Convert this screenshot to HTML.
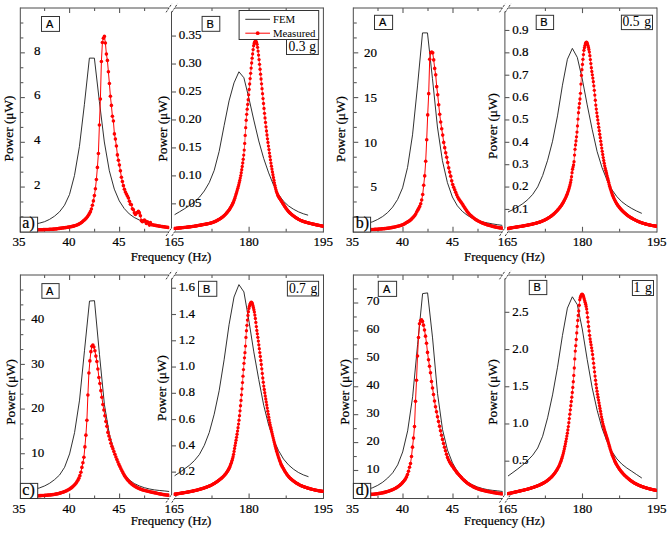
<!DOCTYPE html>
<html><head><meta charset="utf-8"><style>
html,body{margin:0;padding:0;background:#fff;width:669px;height:533px;overflow:hidden}
svg{display:block}
text{fill:#000;stroke:#000;stroke-width:0.22px}
</style></head><body>
<svg width="669" height="533" viewBox="0 0 669 533">
<rect width="669" height="533" fill="#fff"/>
<line x1="20.3" y1="8" x2="168.8" y2="8" stroke="#4a4a4a" stroke-width="1.0" />
<line x1="20.3" y1="232" x2="168.8" y2="232" stroke="#4a4a4a" stroke-width="1.0" />
<line x1="175" y1="8" x2="323.4" y2="8" stroke="#4a4a4a" stroke-width="1.0" />
<line x1="175" y1="232" x2="323.4" y2="232" stroke="#4a4a4a" stroke-width="1.0" />
<line x1="20.3" y1="7.5" x2="20.3" y2="232.5" stroke="#4a4a4a" stroke-width="1.0" />
<line x1="171.5" y1="11.5" x2="171.5" y2="228.5" stroke="#4a4a4a" stroke-width="1.0" />
<line x1="323.4" y1="7.5" x2="323.4" y2="232.5" stroke="#4a4a4a" stroke-width="1.0" />
<line x1="166.1" y1="12.3" x2="171.7" y2="3.9" stroke="#222" stroke-width="0.9" stroke-dasharray="2.2 1.1"/>
<line x1="171.8" y1="12.3" x2="177.4" y2="3.9" stroke="#222" stroke-width="0.9" stroke-dasharray="2.2 1.1"/>
<line x1="166.1" y1="236" x2="171.7" y2="227.6" stroke="#222" stroke-width="0.9" stroke-dasharray="2.2 1.1"/>
<line x1="171.8" y1="236" x2="177.4" y2="227.6" stroke="#222" stroke-width="0.9" stroke-dasharray="2.2 1.1"/>
<line x1="20.35" y1="216.89" x2="23.35" y2="216.89" stroke="#5a5a5a" stroke-width="1.1" />
<line x1="20.35" y1="201.97" x2="23.35" y2="201.97" stroke="#5a5a5a" stroke-width="1.1" />
<line x1="20.35" y1="187.06" x2="24.85" y2="187.06" stroke="#5a5a5a" stroke-width="1.1" />
<line x1="20.35" y1="172.15" x2="23.35" y2="172.15" stroke="#5a5a5a" stroke-width="1.1" />
<line x1="20.35" y1="157.23" x2="23.35" y2="157.23" stroke="#5a5a5a" stroke-width="1.1" />
<line x1="20.35" y1="142.32" x2="24.85" y2="142.32" stroke="#5a5a5a" stroke-width="1.1" />
<line x1="20.35" y1="127.41" x2="23.35" y2="127.41" stroke="#5a5a5a" stroke-width="1.1" />
<line x1="20.35" y1="112.49" x2="23.35" y2="112.49" stroke="#5a5a5a" stroke-width="1.1" />
<line x1="20.35" y1="97.58" x2="24.85" y2="97.58" stroke="#5a5a5a" stroke-width="1.1" />
<line x1="20.35" y1="82.67" x2="23.35" y2="82.67" stroke="#5a5a5a" stroke-width="1.1" />
<line x1="20.35" y1="67.75" x2="23.35" y2="67.75" stroke="#5a5a5a" stroke-width="1.1" />
<line x1="20.35" y1="52.84" x2="24.85" y2="52.84" stroke="#5a5a5a" stroke-width="1.1" />
<line x1="20.35" y1="37.93" x2="23.35" y2="37.93" stroke="#5a5a5a" stroke-width="1.1" />
<line x1="20.35" y1="23.01" x2="23.35" y2="23.01" stroke="#5a5a5a" stroke-width="1.1" />
<text x="40.5" y="188.76" font-family="Liberation Serif" font-size="13" text-anchor="end" font-weight="normal" >2</text>
<text x="40.5" y="144.02" font-family="Liberation Serif" font-size="13" text-anchor="end" font-weight="normal" >4</text>
<text x="40.5" y="99.28" font-family="Liberation Serif" font-size="13" text-anchor="end" font-weight="normal" >6</text>
<text x="40.5" y="54.54" font-family="Liberation Serif" font-size="13" text-anchor="end" font-weight="normal" >8</text>
<line x1="171.5" y1="203.84" x2="176" y2="203.84" stroke="#5a5a5a" stroke-width="1.1" />
<text x="178.8" y="207.14" font-family="Liberation Serif" font-size="13" text-anchor="start" font-weight="normal" >0.05</text>
<line x1="171.5" y1="175.88" x2="176" y2="175.88" stroke="#5a5a5a" stroke-width="1.1" />
<text x="178.8" y="179.18" font-family="Liberation Serif" font-size="13" text-anchor="start" font-weight="normal" >0.10</text>
<line x1="171.5" y1="147.91" x2="176" y2="147.91" stroke="#5a5a5a" stroke-width="1.1" />
<text x="178.8" y="151.21" font-family="Liberation Serif" font-size="13" text-anchor="start" font-weight="normal" >0.15</text>
<line x1="171.5" y1="119.95" x2="176" y2="119.95" stroke="#5a5a5a" stroke-width="1.1" />
<text x="178.8" y="123.25" font-family="Liberation Serif" font-size="13" text-anchor="start" font-weight="normal" >0.20</text>
<line x1="171.5" y1="91.99" x2="176" y2="91.99" stroke="#5a5a5a" stroke-width="1.1" />
<text x="178.8" y="95.29" font-family="Liberation Serif" font-size="13" text-anchor="start" font-weight="normal" >0.25</text>
<line x1="171.5" y1="64.03" x2="176" y2="64.03" stroke="#5a5a5a" stroke-width="1.1" />
<text x="178.8" y="67.33" font-family="Liberation Serif" font-size="13" text-anchor="start" font-weight="normal" >0.30</text>
<line x1="171.5" y1="36.06" x2="176" y2="36.06" stroke="#5a5a5a" stroke-width="1.1" />
<text x="178.8" y="39.36" font-family="Liberation Serif" font-size="13" text-anchor="start" font-weight="normal" >0.35</text>
<line x1="44.6" y1="231.8" x2="44.6" y2="228.8" stroke="#5a5a5a" stroke-width="1.1" />
<line x1="44.6" y1="8.1" x2="44.6" y2="11.1" stroke="#5a5a5a" stroke-width="1.1" />
<line x1="69.6" y1="231.8" x2="69.6" y2="226.8" stroke="#5a5a5a" stroke-width="1.1" />
<line x1="69.6" y1="8.1" x2="69.6" y2="13.1" stroke="#5a5a5a" stroke-width="1.1" />
<line x1="94.6" y1="231.8" x2="94.6" y2="228.8" stroke="#5a5a5a" stroke-width="1.1" />
<line x1="94.6" y1="8.1" x2="94.6" y2="11.1" stroke="#5a5a5a" stroke-width="1.1" />
<line x1="119.6" y1="231.8" x2="119.6" y2="226.8" stroke="#5a5a5a" stroke-width="1.1" />
<line x1="119.6" y1="8.1" x2="119.6" y2="13.1" stroke="#5a5a5a" stroke-width="1.1" />
<line x1="144.6" y1="231.8" x2="144.6" y2="228.8" stroke="#5a5a5a" stroke-width="1.1" />
<line x1="144.6" y1="8.1" x2="144.6" y2="11.1" stroke="#5a5a5a" stroke-width="1.1" />
<line x1="212" y1="231.8" x2="212" y2="228.8" stroke="#5a5a5a" stroke-width="1.1" />
<line x1="212" y1="8.1" x2="212" y2="11.1" stroke="#5a5a5a" stroke-width="1.1" />
<line x1="249.1" y1="231.8" x2="249.1" y2="226.8" stroke="#5a5a5a" stroke-width="1.1" />
<line x1="249.1" y1="8.1" x2="249.1" y2="13.1" stroke="#5a5a5a" stroke-width="1.1" />
<line x1="286.2" y1="231.8" x2="286.2" y2="228.8" stroke="#5a5a5a" stroke-width="1.1" />
<line x1="286.2" y1="8.1" x2="286.2" y2="11.1" stroke="#5a5a5a" stroke-width="1.1" />
<text x="19.1" y="246" font-family="Liberation Serif" font-size="13" text-anchor="middle" font-weight="normal" >35</text>
<text x="69.1" y="246" font-family="Liberation Serif" font-size="13" text-anchor="middle" font-weight="normal" >40</text>
<text x="119.1" y="246" font-family="Liberation Serif" font-size="13" text-anchor="middle" font-weight="normal" >45</text>
<text x="174.2" y="246" font-family="Liberation Serif" font-size="13" text-anchor="middle" font-weight="normal" >165</text>
<text x="249.1" y="246" font-family="Liberation Serif" font-size="13" text-anchor="middle" font-weight="normal" >180</text>
<text x="323.3" y="246" font-family="Liberation Serif" font-size="13" text-anchor="middle" font-weight="normal" >195</text>
<text x="171" y="261.1" font-family="Liberation Serif" font-size="12.8" text-anchor="middle" font-weight="normal" >Frequency (Hz)</text>
<line x1="353.3" y1="8" x2="502.2" y2="8" stroke="#4a4a4a" stroke-width="1.0" />
<line x1="353.3" y1="232" x2="502.2" y2="232" stroke="#4a4a4a" stroke-width="1.0" />
<line x1="508.4" y1="8" x2="657" y2="8" stroke="#4a4a4a" stroke-width="1.0" />
<line x1="508.4" y1="232" x2="657" y2="232" stroke="#4a4a4a" stroke-width="1.0" />
<line x1="353.3" y1="7.5" x2="353.3" y2="232.5" stroke="#4a4a4a" stroke-width="1.0" />
<line x1="504.9" y1="11.5" x2="504.9" y2="228.5" stroke="#4a4a4a" stroke-width="1.0" />
<line x1="657" y1="7.5" x2="657" y2="232.5" stroke="#4a4a4a" stroke-width="1.0" />
<line x1="499.5" y1="12.3" x2="505.1" y2="3.9" stroke="#222" stroke-width="0.9" stroke-dasharray="2.2 1.1"/>
<line x1="505.2" y1="12.3" x2="510.8" y2="3.9" stroke="#222" stroke-width="0.9" stroke-dasharray="2.2 1.1"/>
<line x1="499.5" y1="236" x2="505.1" y2="227.6" stroke="#222" stroke-width="0.9" stroke-dasharray="2.2 1.1"/>
<line x1="505.2" y1="236" x2="510.8" y2="227.6" stroke="#222" stroke-width="0.9" stroke-dasharray="2.2 1.1"/>
<line x1="353.75" y1="216.89" x2="356.75" y2="216.89" stroke="#5a5a5a" stroke-width="1.1" />
<line x1="353.75" y1="201.97" x2="356.75" y2="201.97" stroke="#5a5a5a" stroke-width="1.1" />
<line x1="353.75" y1="187.06" x2="358.25" y2="187.06" stroke="#5a5a5a" stroke-width="1.1" />
<line x1="353.75" y1="172.15" x2="356.75" y2="172.15" stroke="#5a5a5a" stroke-width="1.1" />
<line x1="353.75" y1="157.23" x2="356.75" y2="157.23" stroke="#5a5a5a" stroke-width="1.1" />
<line x1="353.75" y1="142.32" x2="358.25" y2="142.32" stroke="#5a5a5a" stroke-width="1.1" />
<line x1="353.75" y1="127.41" x2="356.75" y2="127.41" stroke="#5a5a5a" stroke-width="1.1" />
<line x1="353.75" y1="112.49" x2="356.75" y2="112.49" stroke="#5a5a5a" stroke-width="1.1" />
<line x1="353.75" y1="97.58" x2="358.25" y2="97.58" stroke="#5a5a5a" stroke-width="1.1" />
<line x1="353.75" y1="82.67" x2="356.75" y2="82.67" stroke="#5a5a5a" stroke-width="1.1" />
<line x1="353.75" y1="67.75" x2="356.75" y2="67.75" stroke="#5a5a5a" stroke-width="1.1" />
<line x1="353.75" y1="52.84" x2="358.25" y2="52.84" stroke="#5a5a5a" stroke-width="1.1" />
<line x1="353.75" y1="37.93" x2="356.75" y2="37.93" stroke="#5a5a5a" stroke-width="1.1" />
<line x1="353.75" y1="23.01" x2="356.75" y2="23.01" stroke="#5a5a5a" stroke-width="1.1" />
<text x="377.1" y="191.36" font-family="Liberation Serif" font-size="13" text-anchor="end" font-weight="normal" >5</text>
<text x="377.1" y="146.62" font-family="Liberation Serif" font-size="13" text-anchor="end" font-weight="normal" >10</text>
<text x="377.1" y="101.88" font-family="Liberation Serif" font-size="13" text-anchor="end" font-weight="normal" >15</text>
<text x="377.1" y="57.14" font-family="Liberation Serif" font-size="13" text-anchor="end" font-weight="normal" >20</text>
<line x1="504.9" y1="209.43" x2="509.4" y2="209.43" stroke="#5a5a5a" stroke-width="1.1" />
<text x="512.2" y="212.83" font-family="Liberation Serif" font-size="13" text-anchor="start" font-weight="normal" >0.1</text>
<line x1="504.9" y1="187.06" x2="509.4" y2="187.06" stroke="#5a5a5a" stroke-width="1.1" />
<text x="512.2" y="190.46" font-family="Liberation Serif" font-size="13" text-anchor="start" font-weight="normal" >0.2</text>
<line x1="504.9" y1="164.69" x2="509.4" y2="164.69" stroke="#5a5a5a" stroke-width="1.1" />
<text x="512.2" y="168.09" font-family="Liberation Serif" font-size="13" text-anchor="start" font-weight="normal" >0.3</text>
<line x1="504.9" y1="142.32" x2="509.4" y2="142.32" stroke="#5a5a5a" stroke-width="1.1" />
<text x="512.2" y="145.72" font-family="Liberation Serif" font-size="13" text-anchor="start" font-weight="normal" >0.4</text>
<line x1="504.9" y1="119.95" x2="509.4" y2="119.95" stroke="#5a5a5a" stroke-width="1.1" />
<text x="512.2" y="123.35" font-family="Liberation Serif" font-size="13" text-anchor="start" font-weight="normal" >0.5</text>
<line x1="504.9" y1="97.58" x2="509.4" y2="97.58" stroke="#5a5a5a" stroke-width="1.1" />
<text x="512.2" y="100.98" font-family="Liberation Serif" font-size="13" text-anchor="start" font-weight="normal" >0.6</text>
<line x1="504.9" y1="75.21" x2="509.4" y2="75.21" stroke="#5a5a5a" stroke-width="1.1" />
<text x="512.2" y="78.61" font-family="Liberation Serif" font-size="13" text-anchor="start" font-weight="normal" >0.7</text>
<line x1="504.9" y1="52.84" x2="509.4" y2="52.84" stroke="#5a5a5a" stroke-width="1.1" />
<text x="512.2" y="56.24" font-family="Liberation Serif" font-size="13" text-anchor="start" font-weight="normal" >0.8</text>
<line x1="504.9" y1="30.47" x2="509.4" y2="30.47" stroke="#5a5a5a" stroke-width="1.1" />
<text x="512.2" y="33.87" font-family="Liberation Serif" font-size="13" text-anchor="start" font-weight="normal" >0.9</text>
<line x1="378" y1="231.8" x2="378" y2="228.8" stroke="#5a5a5a" stroke-width="1.1" />
<line x1="378" y1="8.1" x2="378" y2="11.1" stroke="#5a5a5a" stroke-width="1.1" />
<line x1="403" y1="231.8" x2="403" y2="226.8" stroke="#5a5a5a" stroke-width="1.1" />
<line x1="403" y1="8.1" x2="403" y2="13.1" stroke="#5a5a5a" stroke-width="1.1" />
<line x1="428" y1="231.8" x2="428" y2="228.8" stroke="#5a5a5a" stroke-width="1.1" />
<line x1="428" y1="8.1" x2="428" y2="11.1" stroke="#5a5a5a" stroke-width="1.1" />
<line x1="453" y1="231.8" x2="453" y2="226.8" stroke="#5a5a5a" stroke-width="1.1" />
<line x1="453" y1="8.1" x2="453" y2="13.1" stroke="#5a5a5a" stroke-width="1.1" />
<line x1="478" y1="231.8" x2="478" y2="228.8" stroke="#5a5a5a" stroke-width="1.1" />
<line x1="478" y1="8.1" x2="478" y2="11.1" stroke="#5a5a5a" stroke-width="1.1" />
<line x1="545.4" y1="231.8" x2="545.4" y2="228.8" stroke="#5a5a5a" stroke-width="1.1" />
<line x1="545.4" y1="8.1" x2="545.4" y2="11.1" stroke="#5a5a5a" stroke-width="1.1" />
<line x1="582.5" y1="231.8" x2="582.5" y2="226.8" stroke="#5a5a5a" stroke-width="1.1" />
<line x1="582.5" y1="8.1" x2="582.5" y2="13.1" stroke="#5a5a5a" stroke-width="1.1" />
<line x1="619.6" y1="231.8" x2="619.6" y2="228.8" stroke="#5a5a5a" stroke-width="1.1" />
<line x1="619.6" y1="8.1" x2="619.6" y2="11.1" stroke="#5a5a5a" stroke-width="1.1" />
<text x="352.5" y="246" font-family="Liberation Serif" font-size="13" text-anchor="middle" font-weight="normal" >35</text>
<text x="402.5" y="246" font-family="Liberation Serif" font-size="13" text-anchor="middle" font-weight="normal" >40</text>
<text x="452.5" y="246" font-family="Liberation Serif" font-size="13" text-anchor="middle" font-weight="normal" >45</text>
<text x="507.6" y="246" font-family="Liberation Serif" font-size="13" text-anchor="middle" font-weight="normal" >165</text>
<text x="582.5" y="246" font-family="Liberation Serif" font-size="13" text-anchor="middle" font-weight="normal" >180</text>
<text x="656.7" y="246" font-family="Liberation Serif" font-size="13" text-anchor="middle" font-weight="normal" >195</text>
<text x="504.4" y="261.1" font-family="Liberation Serif" font-size="12.8" text-anchor="middle" font-weight="normal" >Frequency (Hz)</text>
<line x1="20.4" y1="275" x2="168.8" y2="275" stroke="#4a4a4a" stroke-width="1.0" />
<line x1="20.4" y1="498.5" x2="168.8" y2="498.5" stroke="#4a4a4a" stroke-width="1.0" />
<line x1="175" y1="275" x2="323.5" y2="275" stroke="#4a4a4a" stroke-width="1.0" />
<line x1="175" y1="498.5" x2="323.5" y2="498.5" stroke="#4a4a4a" stroke-width="1.0" />
<line x1="20.4" y1="274.5" x2="20.4" y2="499" stroke="#4a4a4a" stroke-width="1.0" />
<line x1="171.6" y1="278.5" x2="171.6" y2="495" stroke="#4a4a4a" stroke-width="1.0" />
<line x1="323.5" y1="274.5" x2="323.5" y2="499" stroke="#4a4a4a" stroke-width="1.0" />
<line x1="166.1" y1="279.3" x2="171.7" y2="270.9" stroke="#222" stroke-width="0.9" stroke-dasharray="2.2 1.1"/>
<line x1="171.8" y1="279.3" x2="177.4" y2="270.9" stroke="#222" stroke-width="0.9" stroke-dasharray="2.2 1.1"/>
<line x1="166.1" y1="502.6" x2="171.7" y2="494.2" stroke="#222" stroke-width="0.9" stroke-dasharray="2.2 1.1"/>
<line x1="171.8" y1="502.6" x2="177.4" y2="494.2" stroke="#222" stroke-width="0.9" stroke-dasharray="2.2 1.1"/>
<line x1="20.35" y1="483.51" x2="23.35" y2="483.51" stroke="#5a5a5a" stroke-width="1.1" />
<line x1="20.35" y1="468.63" x2="23.35" y2="468.63" stroke="#5a5a5a" stroke-width="1.1" />
<line x1="20.35" y1="453.74" x2="24.85" y2="453.74" stroke="#5a5a5a" stroke-width="1.1" />
<line x1="20.35" y1="438.85" x2="23.35" y2="438.85" stroke="#5a5a5a" stroke-width="1.1" />
<line x1="20.35" y1="423.97" x2="23.35" y2="423.97" stroke="#5a5a5a" stroke-width="1.1" />
<line x1="20.35" y1="409.08" x2="24.85" y2="409.08" stroke="#5a5a5a" stroke-width="1.1" />
<line x1="20.35" y1="394.19" x2="23.35" y2="394.19" stroke="#5a5a5a" stroke-width="1.1" />
<line x1="20.35" y1="379.31" x2="23.35" y2="379.31" stroke="#5a5a5a" stroke-width="1.1" />
<line x1="20.35" y1="364.42" x2="24.85" y2="364.42" stroke="#5a5a5a" stroke-width="1.1" />
<line x1="20.35" y1="349.53" x2="23.35" y2="349.53" stroke="#5a5a5a" stroke-width="1.1" />
<line x1="20.35" y1="334.65" x2="23.35" y2="334.65" stroke="#5a5a5a" stroke-width="1.1" />
<line x1="20.35" y1="319.76" x2="24.85" y2="319.76" stroke="#5a5a5a" stroke-width="1.1" />
<line x1="20.35" y1="304.87" x2="23.35" y2="304.87" stroke="#5a5a5a" stroke-width="1.1" />
<line x1="20.35" y1="289.99" x2="23.35" y2="289.99" stroke="#5a5a5a" stroke-width="1.1" />
<text x="44.2" y="456.84" font-family="Liberation Serif" font-size="13" text-anchor="end" font-weight="normal" >10</text>
<text x="44.2" y="412.18" font-family="Liberation Serif" font-size="13" text-anchor="end" font-weight="normal" >20</text>
<text x="44.2" y="367.52" font-family="Liberation Serif" font-size="13" text-anchor="end" font-weight="normal" >30</text>
<text x="44.2" y="322.86" font-family="Liberation Serif" font-size="13" text-anchor="end" font-weight="normal" >40</text>
<line x1="171.5" y1="472.13" x2="176" y2="472.13" stroke="#5a5a5a" stroke-width="1.1" />
<text x="178.8" y="475.13" font-family="Liberation Serif" font-size="13" text-anchor="start" font-weight="normal" >0.2</text>
<line x1="171.5" y1="445.86" x2="176" y2="445.86" stroke="#5a5a5a" stroke-width="1.1" />
<text x="178.8" y="448.86" font-family="Liberation Serif" font-size="13" text-anchor="start" font-weight="normal" >0.4</text>
<line x1="171.5" y1="419.59" x2="176" y2="419.59" stroke="#5a5a5a" stroke-width="1.1" />
<text x="178.8" y="422.59" font-family="Liberation Serif" font-size="13" text-anchor="start" font-weight="normal" >0.6</text>
<line x1="171.5" y1="393.32" x2="176" y2="393.32" stroke="#5a5a5a" stroke-width="1.1" />
<text x="178.8" y="396.32" font-family="Liberation Serif" font-size="13" text-anchor="start" font-weight="normal" >0.8</text>
<line x1="171.5" y1="367.05" x2="176" y2="367.05" stroke="#5a5a5a" stroke-width="1.1" />
<text x="178.8" y="370.05" font-family="Liberation Serif" font-size="13" text-anchor="start" font-weight="normal" >1.0</text>
<line x1="171.5" y1="340.78" x2="176" y2="340.78" stroke="#5a5a5a" stroke-width="1.1" />
<text x="178.8" y="343.78" font-family="Liberation Serif" font-size="13" text-anchor="start" font-weight="normal" >1.2</text>
<line x1="171.5" y1="314.51" x2="176" y2="314.51" stroke="#5a5a5a" stroke-width="1.1" />
<text x="178.8" y="317.51" font-family="Liberation Serif" font-size="13" text-anchor="start" font-weight="normal" >1.4</text>
<line x1="171.5" y1="288.24" x2="176" y2="288.24" stroke="#5a5a5a" stroke-width="1.1" />
<text x="178.8" y="291.24" font-family="Liberation Serif" font-size="13" text-anchor="start" font-weight="normal" >1.6</text>
<line x1="44.6" y1="498.4" x2="44.6" y2="495.4" stroke="#5a5a5a" stroke-width="1.1" />
<line x1="44.6" y1="275.1" x2="44.6" y2="278.1" stroke="#5a5a5a" stroke-width="1.1" />
<line x1="69.6" y1="498.4" x2="69.6" y2="493.4" stroke="#5a5a5a" stroke-width="1.1" />
<line x1="69.6" y1="275.1" x2="69.6" y2="280.1" stroke="#5a5a5a" stroke-width="1.1" />
<line x1="94.6" y1="498.4" x2="94.6" y2="495.4" stroke="#5a5a5a" stroke-width="1.1" />
<line x1="94.6" y1="275.1" x2="94.6" y2="278.1" stroke="#5a5a5a" stroke-width="1.1" />
<line x1="119.6" y1="498.4" x2="119.6" y2="493.4" stroke="#5a5a5a" stroke-width="1.1" />
<line x1="119.6" y1="275.1" x2="119.6" y2="280.1" stroke="#5a5a5a" stroke-width="1.1" />
<line x1="144.6" y1="498.4" x2="144.6" y2="495.4" stroke="#5a5a5a" stroke-width="1.1" />
<line x1="144.6" y1="275.1" x2="144.6" y2="278.1" stroke="#5a5a5a" stroke-width="1.1" />
<line x1="212" y1="498.4" x2="212" y2="495.4" stroke="#5a5a5a" stroke-width="1.1" />
<line x1="212" y1="275.1" x2="212" y2="278.1" stroke="#5a5a5a" stroke-width="1.1" />
<line x1="249.1" y1="498.4" x2="249.1" y2="493.4" stroke="#5a5a5a" stroke-width="1.1" />
<line x1="249.1" y1="275.1" x2="249.1" y2="280.1" stroke="#5a5a5a" stroke-width="1.1" />
<line x1="286.2" y1="498.4" x2="286.2" y2="495.4" stroke="#5a5a5a" stroke-width="1.1" />
<line x1="286.2" y1="275.1" x2="286.2" y2="278.1" stroke="#5a5a5a" stroke-width="1.1" />
<text x="19.1" y="512.6" font-family="Liberation Serif" font-size="13" text-anchor="middle" font-weight="normal" >35</text>
<text x="69.1" y="512.6" font-family="Liberation Serif" font-size="13" text-anchor="middle" font-weight="normal" >40</text>
<text x="119.1" y="512.6" font-family="Liberation Serif" font-size="13" text-anchor="middle" font-weight="normal" >45</text>
<text x="174.2" y="512.6" font-family="Liberation Serif" font-size="13" text-anchor="middle" font-weight="normal" >165</text>
<text x="249.1" y="512.6" font-family="Liberation Serif" font-size="13" text-anchor="middle" font-weight="normal" >180</text>
<text x="323.3" y="512.6" font-family="Liberation Serif" font-size="13" text-anchor="middle" font-weight="normal" >195</text>
<text x="171" y="525.1" font-family="Liberation Serif" font-size="12.8" text-anchor="middle" font-weight="normal" >Frequency (Hz)</text>
<line x1="353.4" y1="275" x2="502.2" y2="275" stroke="#4a4a4a" stroke-width="1.0" />
<line x1="353.4" y1="498.5" x2="502.2" y2="498.5" stroke="#4a4a4a" stroke-width="1.0" />
<line x1="508.4" y1="275" x2="657" y2="275" stroke="#4a4a4a" stroke-width="1.0" />
<line x1="508.4" y1="498.5" x2="657" y2="498.5" stroke="#4a4a4a" stroke-width="1.0" />
<line x1="353.4" y1="274.5" x2="353.4" y2="499" stroke="#4a4a4a" stroke-width="1.0" />
<line x1="504.9" y1="278.5" x2="504.9" y2="495" stroke="#4a4a4a" stroke-width="1.0" />
<line x1="657" y1="274.5" x2="657" y2="499" stroke="#4a4a4a" stroke-width="1.0" />
<line x1="499.5" y1="279.3" x2="505.1" y2="270.9" stroke="#222" stroke-width="0.9" stroke-dasharray="2.2 1.1"/>
<line x1="505.2" y1="279.3" x2="510.8" y2="270.9" stroke="#222" stroke-width="0.9" stroke-dasharray="2.2 1.1"/>
<line x1="499.5" y1="502.6" x2="505.1" y2="494.2" stroke="#222" stroke-width="0.9" stroke-dasharray="2.2 1.1"/>
<line x1="505.2" y1="502.6" x2="510.8" y2="494.2" stroke="#222" stroke-width="0.9" stroke-dasharray="2.2 1.1"/>
<line x1="353.75" y1="484.44" x2="356.75" y2="484.44" stroke="#5a5a5a" stroke-width="1.1" />
<line x1="353.75" y1="470.49" x2="358.25" y2="470.49" stroke="#5a5a5a" stroke-width="1.1" />
<line x1="353.75" y1="456.53" x2="356.75" y2="456.53" stroke="#5a5a5a" stroke-width="1.1" />
<line x1="353.75" y1="442.58" x2="358.25" y2="442.58" stroke="#5a5a5a" stroke-width="1.1" />
<line x1="353.75" y1="428.62" x2="356.75" y2="428.62" stroke="#5a5a5a" stroke-width="1.1" />
<line x1="353.75" y1="414.66" x2="358.25" y2="414.66" stroke="#5a5a5a" stroke-width="1.1" />
<line x1="353.75" y1="400.71" x2="356.75" y2="400.71" stroke="#5a5a5a" stroke-width="1.1" />
<line x1="353.75" y1="386.75" x2="358.25" y2="386.75" stroke="#5a5a5a" stroke-width="1.1" />
<line x1="353.75" y1="372.79" x2="356.75" y2="372.79" stroke="#5a5a5a" stroke-width="1.1" />
<line x1="353.75" y1="358.84" x2="358.25" y2="358.84" stroke="#5a5a5a" stroke-width="1.1" />
<line x1="353.75" y1="344.88" x2="356.75" y2="344.88" stroke="#5a5a5a" stroke-width="1.1" />
<line x1="353.75" y1="330.93" x2="358.25" y2="330.93" stroke="#5a5a5a" stroke-width="1.1" />
<line x1="353.75" y1="316.97" x2="356.75" y2="316.97" stroke="#5a5a5a" stroke-width="1.1" />
<line x1="353.75" y1="303.01" x2="358.25" y2="303.01" stroke="#5a5a5a" stroke-width="1.1" />
<line x1="353.75" y1="289.06" x2="356.75" y2="289.06" stroke="#5a5a5a" stroke-width="1.1" />
<text x="379.6" y="472.89" font-family="Liberation Serif" font-size="13" text-anchor="end" font-weight="normal" >10</text>
<text x="379.6" y="444.98" font-family="Liberation Serif" font-size="13" text-anchor="end" font-weight="normal" >20</text>
<text x="379.6" y="417.06" font-family="Liberation Serif" font-size="13" text-anchor="end" font-weight="normal" >30</text>
<text x="379.6" y="389.15" font-family="Liberation Serif" font-size="13" text-anchor="end" font-weight="normal" >40</text>
<text x="379.6" y="361.24" font-family="Liberation Serif" font-size="13" text-anchor="end" font-weight="normal" >50</text>
<text x="379.6" y="333.33" font-family="Liberation Serif" font-size="13" text-anchor="end" font-weight="normal" >60</text>
<text x="379.6" y="305.41" font-family="Liberation Serif" font-size="13" text-anchor="end" font-weight="normal" >70</text>
<line x1="504.9" y1="461.18" x2="509.4" y2="461.18" stroke="#5a5a5a" stroke-width="1.1" />
<text x="512.2" y="464.38" font-family="Liberation Serif" font-size="13" text-anchor="start" font-weight="normal" >0.5</text>
<line x1="504.9" y1="423.97" x2="509.4" y2="423.97" stroke="#5a5a5a" stroke-width="1.1" />
<text x="512.2" y="427.17" font-family="Liberation Serif" font-size="13" text-anchor="start" font-weight="normal" >1.0</text>
<line x1="504.9" y1="386.75" x2="509.4" y2="386.75" stroke="#5a5a5a" stroke-width="1.1" />
<text x="512.2" y="389.95" font-family="Liberation Serif" font-size="13" text-anchor="start" font-weight="normal" >1.5</text>
<line x1="504.9" y1="349.53" x2="509.4" y2="349.53" stroke="#5a5a5a" stroke-width="1.1" />
<text x="512.2" y="352.73" font-family="Liberation Serif" font-size="13" text-anchor="start" font-weight="normal" >2.0</text>
<line x1="504.9" y1="312.32" x2="509.4" y2="312.32" stroke="#5a5a5a" stroke-width="1.1" />
<text x="512.2" y="315.52" font-family="Liberation Serif" font-size="13" text-anchor="start" font-weight="normal" >2.5</text>
<line x1="378" y1="498.4" x2="378" y2="495.4" stroke="#5a5a5a" stroke-width="1.1" />
<line x1="378" y1="275.1" x2="378" y2="278.1" stroke="#5a5a5a" stroke-width="1.1" />
<line x1="403" y1="498.4" x2="403" y2="493.4" stroke="#5a5a5a" stroke-width="1.1" />
<line x1="403" y1="275.1" x2="403" y2="280.1" stroke="#5a5a5a" stroke-width="1.1" />
<line x1="428" y1="498.4" x2="428" y2="495.4" stroke="#5a5a5a" stroke-width="1.1" />
<line x1="428" y1="275.1" x2="428" y2="278.1" stroke="#5a5a5a" stroke-width="1.1" />
<line x1="453" y1="498.4" x2="453" y2="493.4" stroke="#5a5a5a" stroke-width="1.1" />
<line x1="453" y1="275.1" x2="453" y2="280.1" stroke="#5a5a5a" stroke-width="1.1" />
<line x1="478" y1="498.4" x2="478" y2="495.4" stroke="#5a5a5a" stroke-width="1.1" />
<line x1="478" y1="275.1" x2="478" y2="278.1" stroke="#5a5a5a" stroke-width="1.1" />
<line x1="545.4" y1="498.4" x2="545.4" y2="495.4" stroke="#5a5a5a" stroke-width="1.1" />
<line x1="545.4" y1="275.1" x2="545.4" y2="278.1" stroke="#5a5a5a" stroke-width="1.1" />
<line x1="582.5" y1="498.4" x2="582.5" y2="493.4" stroke="#5a5a5a" stroke-width="1.1" />
<line x1="582.5" y1="275.1" x2="582.5" y2="280.1" stroke="#5a5a5a" stroke-width="1.1" />
<line x1="619.6" y1="498.4" x2="619.6" y2="495.4" stroke="#5a5a5a" stroke-width="1.1" />
<line x1="619.6" y1="275.1" x2="619.6" y2="278.1" stroke="#5a5a5a" stroke-width="1.1" />
<text x="352.5" y="512.6" font-family="Liberation Serif" font-size="13" text-anchor="middle" font-weight="normal" >35</text>
<text x="402.5" y="512.6" font-family="Liberation Serif" font-size="13" text-anchor="middle" font-weight="normal" >40</text>
<text x="452.5" y="512.6" font-family="Liberation Serif" font-size="13" text-anchor="middle" font-weight="normal" >45</text>
<text x="507.6" y="512.6" font-family="Liberation Serif" font-size="13" text-anchor="middle" font-weight="normal" >165</text>
<text x="582.5" y="512.6" font-family="Liberation Serif" font-size="13" text-anchor="middle" font-weight="normal" >180</text>
<text x="656.7" y="512.6" font-family="Liberation Serif" font-size="13" text-anchor="middle" font-weight="normal" >195</text>
<text x="504.4" y="525.1" font-family="Liberation Serif" font-size="12.8" text-anchor="middle" font-weight="normal" >Frequency (Hz)</text>
<svg x="0" y="0" width="669" height="533" overflow="hidden">
<clipPath id="caa"><rect x="20.35" y="8.1" width="148.95" height="223.7"/></clipPath>
<clipPath id="cba"><rect x="173.9" y="8.1" width="149.4" height="223.7"/></clipPath>
<g clip-path="url(#caa)">
<path d="M20.6,225.2 L24.66,225.06 L29.64,224.69 L34.62,224.06 L39.6,223.1 L44.58,221.68 L49.56,219.39 L54.54,216.17 L59.52,211.82 L64.5,205.26 L69.48,194.6 L74.46,175.56 L79.44,146.4 L84.42,104.31 L89.4,58.1 L94.38,58.15 L99.36,101.41 L104.34,141.99 L109.32,170.72 L114.3,189.13 L119.28,200.91 L124.26,208.55 L129.24,213.92 L134.22,217.46 L139.2,219.94 L144.18,222.17 L149.16,224.19 L154.14,225.48 L159.12,226.31 L164.1,227.01 L169,227.61" fill="none" stroke="#1a1a1a" stroke-width="0.9" stroke-linejoin="round"/>
<path d="M21.4,230 L22.4,230 L23.4,229.99 L24.4,229.99 L25.4,229.98 L26.4,229.97 L27.4,229.96 L28.4,229.95 L29.4,229.94 L30.4,229.93 L31.4,229.91 L32.4,229.9 L33.4,229.88 L34.4,229.86 L35.4,229.85 L36.4,229.83 L37.4,229.81 L38.4,229.79 L39.4,229.77 L40.4,229.75 L41.4,229.72 L42.4,229.69 L43.4,229.65 L44.4,229.61 L45.4,229.57 L46.4,229.53 L47.4,229.48 L48.4,229.43 L49.4,229.38 L50.4,229.32 L51.4,229.26 L52.4,229.19 L53.4,229.13 L54.4,229.05 L55.4,228.96 L56.4,228.84 L57.4,228.71 L58.4,228.57 L59.4,228.42 L60.4,228.27 L61.4,228.12 L62.4,227.97 L63.4,227.83 L64.4,227.7 L65.4,227.58 L66.4,227.45 L67.4,227.32 L68.4,227.17 L69.4,227.01 L70.4,226.82 L71.4,226.62 L72.4,226.39 L73.4,226.13 L74.4,225.85 L75.4,225.54 L76.4,225.2 L77.4,224.82 L78.4,224.36 L79.4,223.85 L80.4,223.26 L81.4,222.55 L82.4,221.68 L83.4,220.79 L84.4,219.96 L85.4,219.1 L86.4,218.04 L87.4,216.68 L88.4,215.21 L89.4,213.62 L90.4,211.64 L91.4,209.02 L92.4,205.22 L93.4,200.88 L94.4,195.6 L95.4,188.79 L96.4,179.5 L97.4,167.4 L98.4,153.57 L99.4,125 L100.4,99.04 L101.4,61.5 L102.4,42.44 L103.4,38.3 L104.4,36.4 L105.4,43 L106.4,54.1 L107.4,60.4 L108.4,71.82 L109.4,83.5 L110.4,96.3 L111.4,105.4 L112.4,116.29 L113.4,121.02 L114.4,133.9 L115.4,139.09 L116.4,146.01 L117.4,154.88 L118.4,160.3 L119.4,165 L120.4,170.83 L121.4,177.22 L122.4,181.6 L123.4,185.64 L124.4,189.3 L125.4,191.94 L126.4,194.1 L127.4,195.98 L128.4,198.05 L129.4,201.27 L130.4,204.16 L131.4,204.78 L132.4,208.76 L133.4,209.71 L134.4,212.81 L135.4,214.53 L136.4,212.93 L137.4,212.55 L138.4,211.27 L139.4,212.88 L140.4,215.78 L141.4,220.64 L142.4,221.75 L143.4,220.77 L144.4,220.02 L145.4,221.04 L146.4,223.48 L147.4,221.78 L148.4,223.08 L149.4,225.12 L150.4,222.64 L151.4,224.8 L152.4,224.75 L153.4,224.99 L154.4,225.21 L155.4,225.42 L156.4,225.61 L157.4,225.79 L158.4,225.97 L159.4,226.14 L160.4,226.3 L161.4,226.46 L162.4,226.6 L163.4,226.75 L164.4,226.89 L165.4,227.03 L166.4,227.18 L167.4,227.34 L168.4,227.5" fill="none" stroke="#ff0000" stroke-width="1.0" stroke-linejoin="round"/>
<g fill="#ff0000"><circle cx="21.4" cy="230" r="1.8"/><circle cx="22.4" cy="230" r="1.8"/><circle cx="23.4" cy="229.99" r="1.8"/><circle cx="24.4" cy="229.99" r="1.8"/><circle cx="25.4" cy="229.98" r="1.8"/><circle cx="26.4" cy="229.97" r="1.8"/><circle cx="27.4" cy="229.96" r="1.8"/><circle cx="28.4" cy="229.95" r="1.8"/><circle cx="29.4" cy="229.94" r="1.8"/><circle cx="30.4" cy="229.93" r="1.8"/><circle cx="31.4" cy="229.91" r="1.8"/><circle cx="32.4" cy="229.9" r="1.8"/><circle cx="33.4" cy="229.88" r="1.8"/><circle cx="34.4" cy="229.86" r="1.8"/><circle cx="35.4" cy="229.85" r="1.8"/><circle cx="36.4" cy="229.83" r="1.8"/><circle cx="37.4" cy="229.81" r="1.8"/><circle cx="38.4" cy="229.79" r="1.8"/><circle cx="39.4" cy="229.77" r="1.8"/><circle cx="40.4" cy="229.75" r="1.8"/><circle cx="41.4" cy="229.72" r="1.8"/><circle cx="42.4" cy="229.69" r="1.8"/><circle cx="43.4" cy="229.65" r="1.8"/><circle cx="44.4" cy="229.61" r="1.8"/><circle cx="45.4" cy="229.57" r="1.8"/><circle cx="46.4" cy="229.53" r="1.8"/><circle cx="47.4" cy="229.48" r="1.8"/><circle cx="48.4" cy="229.43" r="1.8"/><circle cx="49.4" cy="229.38" r="1.8"/><circle cx="50.4" cy="229.32" r="1.8"/><circle cx="51.4" cy="229.26" r="1.8"/><circle cx="52.4" cy="229.19" r="1.8"/><circle cx="53.4" cy="229.13" r="1.8"/><circle cx="54.4" cy="229.05" r="1.8"/><circle cx="55.4" cy="228.96" r="1.8"/><circle cx="56.4" cy="228.84" r="1.8"/><circle cx="57.4" cy="228.71" r="1.8"/><circle cx="58.4" cy="228.57" r="1.8"/><circle cx="59.4" cy="228.42" r="1.8"/><circle cx="60.4" cy="228.27" r="1.8"/><circle cx="61.4" cy="228.12" r="1.8"/><circle cx="62.4" cy="227.97" r="1.8"/><circle cx="63.4" cy="227.83" r="1.8"/><circle cx="64.4" cy="227.7" r="1.8"/><circle cx="65.4" cy="227.58" r="1.8"/><circle cx="66.4" cy="227.45" r="1.8"/><circle cx="67.4" cy="227.32" r="1.8"/><circle cx="68.4" cy="227.17" r="1.8"/><circle cx="69.4" cy="227.01" r="1.8"/><circle cx="70.4" cy="226.82" r="1.8"/><circle cx="71.4" cy="226.62" r="1.8"/><circle cx="72.4" cy="226.39" r="1.8"/><circle cx="73.4" cy="226.13" r="1.8"/><circle cx="74.4" cy="225.85" r="1.8"/><circle cx="75.4" cy="225.54" r="1.8"/><circle cx="76.4" cy="225.2" r="1.8"/><circle cx="77.4" cy="224.82" r="1.8"/><circle cx="78.4" cy="224.36" r="1.8"/><circle cx="79.4" cy="223.85" r="1.8"/><circle cx="80.4" cy="223.26" r="1.8"/><circle cx="81.4" cy="222.55" r="1.8"/><circle cx="82.4" cy="221.68" r="1.8"/><circle cx="83.4" cy="220.79" r="1.8"/><circle cx="84.4" cy="219.96" r="1.8"/><circle cx="85.4" cy="219.1" r="1.8"/><circle cx="86.4" cy="218.04" r="1.8"/><circle cx="87.4" cy="216.68" r="1.8"/><circle cx="88.4" cy="215.21" r="1.8"/><circle cx="89.4" cy="213.62" r="1.8"/><circle cx="90.4" cy="211.64" r="1.8"/><circle cx="91.4" cy="209.02" r="1.8"/><circle cx="92.4" cy="205.22" r="1.8"/><circle cx="93.4" cy="200.88" r="1.8"/><circle cx="94.4" cy="195.6" r="1.8"/><circle cx="95.4" cy="188.79" r="1.8"/><circle cx="96.4" cy="179.5" r="1.8"/><circle cx="97.4" cy="167.4" r="1.8"/><circle cx="98.4" cy="153.57" r="1.8"/><circle cx="99.4" cy="125" r="1.8"/><circle cx="100.4" cy="99.04" r="1.8"/><circle cx="101.4" cy="61.5" r="1.8"/><circle cx="102.4" cy="42.44" r="1.8"/><circle cx="103.4" cy="38.3" r="1.8"/><circle cx="104.4" cy="36.4" r="1.8"/><circle cx="105.4" cy="43" r="1.8"/><circle cx="106.4" cy="54.1" r="1.8"/><circle cx="107.4" cy="60.4" r="1.8"/><circle cx="108.4" cy="71.82" r="1.8"/><circle cx="109.4" cy="83.5" r="1.8"/><circle cx="110.4" cy="96.3" r="1.8"/><circle cx="111.4" cy="105.4" r="1.8"/><circle cx="112.4" cy="116.29" r="1.8"/><circle cx="113.4" cy="121.02" r="1.8"/><circle cx="114.4" cy="133.9" r="1.8"/><circle cx="115.4" cy="139.09" r="1.8"/><circle cx="116.4" cy="146.01" r="1.8"/><circle cx="117.4" cy="154.88" r="1.8"/><circle cx="118.4" cy="160.3" r="1.8"/><circle cx="119.4" cy="165" r="1.8"/><circle cx="120.4" cy="170.83" r="1.8"/><circle cx="121.4" cy="177.22" r="1.8"/><circle cx="122.4" cy="181.6" r="1.8"/><circle cx="123.4" cy="185.64" r="1.8"/><circle cx="124.4" cy="189.3" r="1.8"/><circle cx="125.4" cy="191.94" r="1.8"/><circle cx="126.4" cy="194.1" r="1.8"/><circle cx="127.4" cy="195.98" r="1.8"/><circle cx="128.4" cy="198.05" r="1.8"/><circle cx="129.4" cy="201.27" r="1.8"/><circle cx="130.4" cy="204.16" r="1.8"/><circle cx="131.4" cy="204.78" r="1.8"/><circle cx="132.4" cy="208.76" r="1.8"/><circle cx="133.4" cy="209.71" r="1.8"/><circle cx="134.4" cy="212.81" r="1.8"/><circle cx="135.4" cy="214.53" r="1.8"/><circle cx="136.4" cy="212.93" r="1.8"/><circle cx="137.4" cy="212.55" r="1.8"/><circle cx="138.4" cy="211.27" r="1.8"/><circle cx="139.4" cy="212.88" r="1.8"/><circle cx="140.4" cy="215.78" r="1.8"/><circle cx="141.4" cy="220.64" r="1.8"/><circle cx="142.4" cy="221.75" r="1.8"/><circle cx="143.4" cy="220.77" r="1.8"/><circle cx="144.4" cy="220.02" r="1.8"/><circle cx="145.4" cy="221.04" r="1.8"/><circle cx="146.4" cy="223.48" r="1.8"/><circle cx="147.4" cy="221.78" r="1.8"/><circle cx="148.4" cy="223.08" r="1.8"/><circle cx="149.4" cy="225.12" r="1.8"/><circle cx="150.4" cy="222.64" r="1.8"/><circle cx="151.4" cy="224.8" r="1.8"/><circle cx="152.4" cy="224.75" r="1.8"/><circle cx="153.4" cy="224.99" r="1.8"/><circle cx="154.4" cy="225.21" r="1.8"/><circle cx="155.4" cy="225.42" r="1.8"/><circle cx="156.4" cy="225.61" r="1.8"/><circle cx="157.4" cy="225.79" r="1.8"/><circle cx="158.4" cy="225.97" r="1.8"/><circle cx="159.4" cy="226.14" r="1.8"/><circle cx="160.4" cy="226.3" r="1.8"/><circle cx="161.4" cy="226.46" r="1.8"/><circle cx="162.4" cy="226.6" r="1.8"/><circle cx="163.4" cy="226.75" r="1.8"/><circle cx="164.4" cy="226.89" r="1.8"/><circle cx="165.4" cy="227.03" r="1.8"/><circle cx="166.4" cy="227.18" r="1.8"/><circle cx="167.4" cy="227.34" r="1.8"/><circle cx="168.4" cy="227.5" r="1.8"/></g>
</g>
<g clip-path="url(#cba)">
<path d="M174.6,214.7 L179.55,211.76 L184.5,208.76 L189.45,205.49 L194.4,202 L199.35,197.32 L204.3,190.97 L209.25,182.62 L214.2,170.4 L219.15,151.38 L224.1,125.68 L229.05,100.91 L234,82.87 L238.95,71.79 L243.9,77.78 L248.85,97.96 L253.8,120.08 L258.75,140.95 L263.7,158.44 L268.65,172.85 L273.6,185.22 L278.55,194.44 L283.5,201.28 L288.45,205.89 L293.4,209.17 L298.35,211.79 L303.3,213.76 L308.1,215.2" fill="none" stroke="#1a1a1a" stroke-width="0.9" stroke-linejoin="round"/>
<path d="M172.93,228.64 L173.43,228.58 L173.92,228.52 L174.42,228.46 L174.91,228.41 L175.41,228.36 L175.9,228.3 L176.4,228.25 L176.89,228.21 L177.39,228.16 L177.88,228.11 L178.38,228.06 L178.87,228.01 L179.37,227.97 L179.86,227.92 L180.36,227.87 L180.85,227.82 L181.35,227.77 L181.84,227.72 L182.34,227.67 L182.83,227.62 L183.33,227.56 L183.82,227.51 L184.32,227.45 L184.81,227.4 L185.31,227.34 L185.8,227.29 L186.3,227.23 L186.79,227.18 L187.29,227.12 L187.78,227.06 L188.28,227 L188.77,226.94 L189.27,226.88 L189.76,226.82 L190.26,226.76 L190.75,226.69 L191.25,226.63 L191.74,226.56 L192.24,226.49 L192.73,226.42 L193.23,226.35 L193.72,226.28 L194.22,226.2 L194.71,226.12 L195.21,226.04 L195.7,225.96 L196.2,225.88 L196.69,225.79 L197.19,225.7 L197.68,225.61 L198.18,225.52 L198.67,225.43 L199.17,225.34 L199.66,225.25 L200.16,225.15 L200.65,225.06 L201.15,224.96 L201.64,224.87 L202.14,224.77 L202.63,224.68 L203.13,224.59 L203.62,224.5 L204.12,224.4 L204.61,224.31 L205.11,224.22 L205.6,224.13 L206.1,224.04 L206.59,223.94 L207.09,223.84 L207.58,223.74 L208.08,223.64 L208.57,223.53 L209.07,223.42 L209.56,223.3 L210.06,223.18 L210.55,223.05 L211.05,222.92 L211.54,222.78 L212.04,222.63 L212.53,222.47 L213.03,222.29 L213.52,222.11 L214.02,221.92 L214.51,221.71 L215.01,221.5 L215.5,221.27 L216,221.04 L216.49,220.79 L216.99,220.54 L217.48,220.27 L217.98,220 L218.47,219.72 L218.97,219.42 L219.46,219.12 L219.96,218.81 L220.45,218.49 L220.95,218.17 L221.44,217.83 L221.94,217.47 L222.43,217.09 L222.93,216.69 L223.42,216.27 L223.92,215.82 L224.41,215.36 L224.91,214.87 L225.4,214.36 L225.9,213.83 L226.39,213.27 L226.89,212.7 L227.38,212.11 L227.88,211.5 L228.37,210.86 L228.87,210.2 L229.36,209.5 L229.86,208.75 L230.35,207.96 L230.85,207.11 L231.34,206.22 L231.84,205.28 L232.33,204.29 L232.83,203.25 L233.32,202.16 L233.82,201.01 L234.31,199.69 L234.81,198.21 L235.3,196.62 L235.8,195 L236.29,193.38 L236.79,191.74 L237.28,190.07 L237.78,188.34 L238.27,186.54 L238.77,184.64 L239.26,182.61 L239.76,180.44 L240.25,178.1 L240.75,175.53 L241.24,172.74 L241.74,169.72 L242.23,166.48 L242.73,163.01 L243.22,159.27 L243.72,155.05 L244.21,150.05 L244.71,143.43 L245.2,135.46 L245.7,127.71 L246.19,120.27 L246.69,114.32 L247.18,109.16 L247.68,104.42 L248.17,99.75 L248.67,94.81 L249.16,89.49 L249.66,84 L250.15,78.54 L250.65,73.28 L251.14,68.11 L251.64,63.02 L252.13,58.22 L252.63,53.89 L253.12,49.55 L253.62,45.81 L254.11,43.65 L254.61,42.27 L255.1,41.28 L255.6,40.9 L256.09,41.41 L256.59,42.66 L257.08,44.32 L257.58,47.29 L258.07,51.11 L258.57,55.11 L259.06,59.57 L259.56,64.32 L260.06,69.25 L260.55,74.18 L261.05,79 L261.54,83.83 L262.04,88.72 L262.53,93.63 L263.03,98.53 L263.52,103.51 L264.02,108.47 L264.51,113.31 L265.01,117.93 L265.5,122.45 L266,126.82 L266.49,131 L266.99,134.98 L267.48,138.79 L267.98,142.47 L268.47,146.05 L268.97,149.56 L269.46,153.04 L269.96,156.5 L270.45,159.87 L270.95,163.12 L271.44,166.2 L271.94,169.07 L272.43,171.9 L272.93,174.73 L273.42,177.52 L273.92,180.24 L274.41,182.85 L274.91,185.31 L275.4,187.57 L275.9,189.61 L276.39,191.39 L276.89,192.86 L277.38,194.09 L277.88,195.21 L278.37,196.21 L278.87,197.13 L279.36,197.98 L279.86,198.78 L280.35,199.55 L280.85,200.29 L281.34,201.04 L281.84,201.8 L282.33,202.58 L282.83,203.36 L283.32,204.14 L283.82,204.92 L284.31,205.69 L284.81,206.45 L285.3,207.19 L285.8,207.92 L286.29,208.63 L286.79,209.31 L287.28,209.97 L287.78,210.6 L288.27,211.19 L288.77,211.75 L289.26,212.28 L289.76,212.76 L290.25,213.21 L290.75,213.65 L291.24,214.08 L291.74,214.51 L292.23,214.92 L292.73,215.32 L293.22,215.71 L293.72,216.09 L294.21,216.46 L294.71,216.82 L295.2,217.17 L295.7,217.51 L296.19,217.84 L296.69,218.16 L297.18,218.46 L297.68,218.76 L298.17,219.05 L298.67,219.32 L299.16,219.58 L299.66,219.84 L300.15,220.08 L300.65,220.31 L301.14,220.53 L301.64,220.73 L302.13,220.93 L302.63,221.12 L303.12,221.3 L303.62,221.48 L304.11,221.65 L304.61,221.81 L305.1,221.97 L305.6,222.13 L306.09,222.27 L306.59,222.42 L307.08,222.56 L307.58,222.69 L308.07,222.83 L308.57,222.96 L309.06,223.08 L309.56,223.21 L310.05,223.33 L310.55,223.45 L311.04,223.57 L311.54,223.69 L312.03,223.81 L312.53,223.92 L313.02,224.04 L313.52,224.16 L314.01,224.27 L314.51,224.39 L315,224.5 L315.5,224.62 L315.99,224.73 L316.49,224.84 L316.98,224.95 L317.48,225.05 L317.97,225.16 L318.47,225.26 L318.96,225.36 L319.46,225.46 L319.95,225.56 L320.45,225.66 L320.94,225.75 L321.44,225.85 L321.93,225.94 L322.43,226.03 L322.92,226.12 L323.42,226.2 L323.91,226.29" fill="none" stroke="#ff0000" stroke-width="0.7" stroke-linejoin="round"/>
<g fill="#ff0000"><circle cx="172.93" cy="228.64" r="1.65"/><circle cx="173.43" cy="228.58" r="1.65"/><circle cx="173.92" cy="228.52" r="1.65"/><circle cx="174.42" cy="228.46" r="1.65"/><circle cx="174.91" cy="228.41" r="1.65"/><circle cx="175.41" cy="228.36" r="1.65"/><circle cx="175.9" cy="228.3" r="1.65"/><circle cx="176.4" cy="228.25" r="1.65"/><circle cx="176.89" cy="228.21" r="1.65"/><circle cx="177.39" cy="228.16" r="1.65"/><circle cx="177.88" cy="228.11" r="1.65"/><circle cx="178.38" cy="228.06" r="1.65"/><circle cx="178.87" cy="228.01" r="1.65"/><circle cx="179.37" cy="227.97" r="1.65"/><circle cx="179.86" cy="227.92" r="1.65"/><circle cx="180.36" cy="227.87" r="1.65"/><circle cx="180.85" cy="227.82" r="1.65"/><circle cx="181.35" cy="227.77" r="1.65"/><circle cx="181.84" cy="227.72" r="1.65"/><circle cx="182.34" cy="227.67" r="1.65"/><circle cx="182.83" cy="227.62" r="1.65"/><circle cx="183.33" cy="227.56" r="1.65"/><circle cx="183.82" cy="227.51" r="1.65"/><circle cx="184.32" cy="227.45" r="1.65"/><circle cx="184.81" cy="227.4" r="1.65"/><circle cx="185.31" cy="227.34" r="1.65"/><circle cx="185.8" cy="227.29" r="1.65"/><circle cx="186.3" cy="227.23" r="1.65"/><circle cx="186.79" cy="227.18" r="1.65"/><circle cx="187.29" cy="227.12" r="1.65"/><circle cx="187.78" cy="227.06" r="1.65"/><circle cx="188.28" cy="227" r="1.65"/><circle cx="188.77" cy="226.94" r="1.65"/><circle cx="189.27" cy="226.88" r="1.65"/><circle cx="189.76" cy="226.82" r="1.65"/><circle cx="190.26" cy="226.76" r="1.65"/><circle cx="190.75" cy="226.69" r="1.65"/><circle cx="191.25" cy="226.63" r="1.65"/><circle cx="191.74" cy="226.56" r="1.65"/><circle cx="192.24" cy="226.49" r="1.65"/><circle cx="192.73" cy="226.42" r="1.65"/><circle cx="193.23" cy="226.35" r="1.65"/><circle cx="193.72" cy="226.28" r="1.65"/><circle cx="194.22" cy="226.2" r="1.65"/><circle cx="194.71" cy="226.12" r="1.65"/><circle cx="195.21" cy="226.04" r="1.65"/><circle cx="195.7" cy="225.96" r="1.65"/><circle cx="196.2" cy="225.88" r="1.65"/><circle cx="196.69" cy="225.79" r="1.65"/><circle cx="197.19" cy="225.7" r="1.65"/><circle cx="197.68" cy="225.61" r="1.65"/><circle cx="198.18" cy="225.52" r="1.65"/><circle cx="198.67" cy="225.43" r="1.65"/><circle cx="199.17" cy="225.34" r="1.65"/><circle cx="199.66" cy="225.25" r="1.65"/><circle cx="200.16" cy="225.15" r="1.65"/><circle cx="200.65" cy="225.06" r="1.65"/><circle cx="201.15" cy="224.96" r="1.65"/><circle cx="201.64" cy="224.87" r="1.65"/><circle cx="202.14" cy="224.77" r="1.65"/><circle cx="202.63" cy="224.68" r="1.65"/><circle cx="203.13" cy="224.59" r="1.65"/><circle cx="203.62" cy="224.5" r="1.65"/><circle cx="204.12" cy="224.4" r="1.65"/><circle cx="204.61" cy="224.31" r="1.65"/><circle cx="205.11" cy="224.22" r="1.65"/><circle cx="205.6" cy="224.13" r="1.65"/><circle cx="206.1" cy="224.04" r="1.65"/><circle cx="206.59" cy="223.94" r="1.65"/><circle cx="207.09" cy="223.84" r="1.65"/><circle cx="207.58" cy="223.74" r="1.65"/><circle cx="208.08" cy="223.64" r="1.65"/><circle cx="208.57" cy="223.53" r="1.65"/><circle cx="209.07" cy="223.42" r="1.65"/><circle cx="209.56" cy="223.3" r="1.65"/><circle cx="210.06" cy="223.18" r="1.65"/><circle cx="210.55" cy="223.05" r="1.65"/><circle cx="211.05" cy="222.92" r="1.65"/><circle cx="211.54" cy="222.78" r="1.65"/><circle cx="212.04" cy="222.63" r="1.65"/><circle cx="212.53" cy="222.47" r="1.65"/><circle cx="213.03" cy="222.29" r="1.65"/><circle cx="213.52" cy="222.11" r="1.65"/><circle cx="214.02" cy="221.92" r="1.65"/><circle cx="214.51" cy="221.71" r="1.65"/><circle cx="215.01" cy="221.5" r="1.65"/><circle cx="215.5" cy="221.27" r="1.65"/><circle cx="216" cy="221.04" r="1.65"/><circle cx="216.49" cy="220.79" r="1.65"/><circle cx="216.99" cy="220.54" r="1.65"/><circle cx="217.48" cy="220.27" r="1.65"/><circle cx="217.98" cy="220" r="1.65"/><circle cx="218.47" cy="219.72" r="1.65"/><circle cx="218.97" cy="219.42" r="1.65"/><circle cx="219.46" cy="219.12" r="1.65"/><circle cx="219.96" cy="218.81" r="1.65"/><circle cx="220.45" cy="218.49" r="1.65"/><circle cx="220.95" cy="218.17" r="1.65"/><circle cx="221.44" cy="217.83" r="1.65"/><circle cx="221.94" cy="217.47" r="1.65"/><circle cx="222.43" cy="217.09" r="1.65"/><circle cx="222.93" cy="216.69" r="1.65"/><circle cx="223.42" cy="216.27" r="1.65"/><circle cx="223.92" cy="215.82" r="1.65"/><circle cx="224.41" cy="215.36" r="1.65"/><circle cx="224.91" cy="214.87" r="1.65"/><circle cx="225.4" cy="214.36" r="1.65"/><circle cx="225.9" cy="213.83" r="1.65"/><circle cx="226.39" cy="213.27" r="1.65"/><circle cx="226.89" cy="212.7" r="1.65"/><circle cx="227.38" cy="212.11" r="1.65"/><circle cx="227.88" cy="211.5" r="1.65"/><circle cx="228.37" cy="210.86" r="1.65"/><circle cx="228.87" cy="210.2" r="1.65"/><circle cx="229.36" cy="209.5" r="1.65"/><circle cx="229.86" cy="208.75" r="1.65"/><circle cx="230.35" cy="207.96" r="1.65"/><circle cx="230.85" cy="207.11" r="1.65"/><circle cx="231.34" cy="206.22" r="1.65"/><circle cx="231.84" cy="205.28" r="1.65"/><circle cx="232.33" cy="204.29" r="1.65"/><circle cx="232.83" cy="203.25" r="1.65"/><circle cx="233.32" cy="202.16" r="1.65"/><circle cx="233.82" cy="201.01" r="1.65"/><circle cx="234.31" cy="199.69" r="1.65"/><circle cx="234.81" cy="198.21" r="1.65"/><circle cx="235.3" cy="196.62" r="1.65"/><circle cx="235.8" cy="195" r="1.65"/><circle cx="236.29" cy="193.38" r="1.65"/><circle cx="236.79" cy="191.74" r="1.65"/><circle cx="237.28" cy="190.07" r="1.65"/><circle cx="237.78" cy="188.34" r="1.65"/><circle cx="238.27" cy="186.54" r="1.65"/><circle cx="238.77" cy="184.64" r="1.65"/><circle cx="239.26" cy="182.61" r="1.65"/><circle cx="239.76" cy="180.44" r="1.65"/><circle cx="240.25" cy="178.1" r="1.65"/><circle cx="240.75" cy="175.53" r="1.65"/><circle cx="241.24" cy="172.74" r="1.65"/><circle cx="241.74" cy="169.72" r="1.65"/><circle cx="242.23" cy="166.48" r="1.65"/><circle cx="242.73" cy="163.01" r="1.65"/><circle cx="243.22" cy="159.27" r="1.65"/><circle cx="243.72" cy="155.05" r="1.65"/><circle cx="244.21" cy="150.05" r="1.65"/><circle cx="244.71" cy="143.43" r="1.65"/><circle cx="245.2" cy="135.46" r="1.65"/><circle cx="245.7" cy="127.71" r="1.65"/><circle cx="246.19" cy="120.27" r="1.65"/><circle cx="246.69" cy="114.32" r="1.65"/><circle cx="247.18" cy="109.16" r="1.65"/><circle cx="247.68" cy="104.42" r="1.65"/><circle cx="248.17" cy="99.75" r="1.65"/><circle cx="248.67" cy="94.81" r="1.65"/><circle cx="249.16" cy="89.49" r="1.65"/><circle cx="249.66" cy="84" r="1.65"/><circle cx="250.15" cy="78.54" r="1.65"/><circle cx="250.65" cy="73.28" r="1.65"/><circle cx="251.14" cy="68.11" r="1.65"/><circle cx="251.64" cy="63.02" r="1.65"/><circle cx="252.13" cy="58.22" r="1.65"/><circle cx="252.63" cy="53.89" r="1.65"/><circle cx="253.12" cy="49.55" r="1.65"/><circle cx="253.62" cy="45.81" r="1.65"/><circle cx="254.11" cy="43.65" r="1.65"/><circle cx="254.61" cy="42.27" r="1.65"/><circle cx="255.1" cy="41.28" r="1.65"/><circle cx="255.6" cy="40.9" r="1.65"/><circle cx="256.09" cy="41.41" r="1.65"/><circle cx="256.59" cy="42.66" r="1.65"/><circle cx="257.08" cy="44.32" r="1.65"/><circle cx="257.58" cy="47.29" r="1.65"/><circle cx="258.07" cy="51.11" r="1.65"/><circle cx="258.57" cy="55.11" r="1.65"/><circle cx="259.06" cy="59.57" r="1.65"/><circle cx="259.56" cy="64.32" r="1.65"/><circle cx="260.06" cy="69.25" r="1.65"/><circle cx="260.55" cy="74.18" r="1.65"/><circle cx="261.05" cy="79" r="1.65"/><circle cx="261.54" cy="83.83" r="1.65"/><circle cx="262.04" cy="88.72" r="1.65"/><circle cx="262.53" cy="93.63" r="1.65"/><circle cx="263.03" cy="98.53" r="1.65"/><circle cx="263.52" cy="103.51" r="1.65"/><circle cx="264.02" cy="108.47" r="1.65"/><circle cx="264.51" cy="113.31" r="1.65"/><circle cx="265.01" cy="117.93" r="1.65"/><circle cx="265.5" cy="122.45" r="1.65"/><circle cx="266" cy="126.82" r="1.65"/><circle cx="266.49" cy="131" r="1.65"/><circle cx="266.99" cy="134.98" r="1.65"/><circle cx="267.48" cy="138.79" r="1.65"/><circle cx="267.98" cy="142.47" r="1.65"/><circle cx="268.47" cy="146.05" r="1.65"/><circle cx="268.97" cy="149.56" r="1.65"/><circle cx="269.46" cy="153.04" r="1.65"/><circle cx="269.96" cy="156.5" r="1.65"/><circle cx="270.45" cy="159.87" r="1.65"/><circle cx="270.95" cy="163.12" r="1.65"/><circle cx="271.44" cy="166.2" r="1.65"/><circle cx="271.94" cy="169.07" r="1.65"/><circle cx="272.43" cy="171.9" r="1.65"/><circle cx="272.93" cy="174.73" r="1.65"/><circle cx="273.42" cy="177.52" r="1.65"/><circle cx="273.92" cy="180.24" r="1.65"/><circle cx="274.41" cy="182.85" r="1.65"/><circle cx="274.91" cy="185.31" r="1.65"/><circle cx="275.4" cy="187.57" r="1.65"/><circle cx="275.9" cy="189.61" r="1.65"/><circle cx="276.39" cy="191.39" r="1.65"/><circle cx="276.89" cy="192.86" r="1.65"/><circle cx="277.38" cy="194.09" r="1.65"/><circle cx="277.88" cy="195.21" r="1.65"/><circle cx="278.37" cy="196.21" r="1.65"/><circle cx="278.87" cy="197.13" r="1.65"/><circle cx="279.36" cy="197.98" r="1.65"/><circle cx="279.86" cy="198.78" r="1.65"/><circle cx="280.35" cy="199.55" r="1.65"/><circle cx="280.85" cy="200.29" r="1.65"/><circle cx="281.34" cy="201.04" r="1.65"/><circle cx="281.84" cy="201.8" r="1.65"/><circle cx="282.33" cy="202.58" r="1.65"/><circle cx="282.83" cy="203.36" r="1.65"/><circle cx="283.32" cy="204.14" r="1.65"/><circle cx="283.82" cy="204.92" r="1.65"/><circle cx="284.31" cy="205.69" r="1.65"/><circle cx="284.81" cy="206.45" r="1.65"/><circle cx="285.3" cy="207.19" r="1.65"/><circle cx="285.8" cy="207.92" r="1.65"/><circle cx="286.29" cy="208.63" r="1.65"/><circle cx="286.79" cy="209.31" r="1.65"/><circle cx="287.28" cy="209.97" r="1.65"/><circle cx="287.78" cy="210.6" r="1.65"/><circle cx="288.27" cy="211.19" r="1.65"/><circle cx="288.77" cy="211.75" r="1.65"/><circle cx="289.26" cy="212.28" r="1.65"/><circle cx="289.76" cy="212.76" r="1.65"/><circle cx="290.25" cy="213.21" r="1.65"/><circle cx="290.75" cy="213.65" r="1.65"/><circle cx="291.24" cy="214.08" r="1.65"/><circle cx="291.74" cy="214.51" r="1.65"/><circle cx="292.23" cy="214.92" r="1.65"/><circle cx="292.73" cy="215.32" r="1.65"/><circle cx="293.22" cy="215.71" r="1.65"/><circle cx="293.72" cy="216.09" r="1.65"/><circle cx="294.21" cy="216.46" r="1.65"/><circle cx="294.71" cy="216.82" r="1.65"/><circle cx="295.2" cy="217.17" r="1.65"/><circle cx="295.7" cy="217.51" r="1.65"/><circle cx="296.19" cy="217.84" r="1.65"/><circle cx="296.69" cy="218.16" r="1.65"/><circle cx="297.18" cy="218.46" r="1.65"/><circle cx="297.68" cy="218.76" r="1.65"/><circle cx="298.17" cy="219.05" r="1.65"/><circle cx="298.67" cy="219.32" r="1.65"/><circle cx="299.16" cy="219.58" r="1.65"/><circle cx="299.66" cy="219.84" r="1.65"/><circle cx="300.15" cy="220.08" r="1.65"/><circle cx="300.65" cy="220.31" r="1.65"/><circle cx="301.14" cy="220.53" r="1.65"/><circle cx="301.64" cy="220.73" r="1.65"/><circle cx="302.13" cy="220.93" r="1.65"/><circle cx="302.63" cy="221.12" r="1.65"/><circle cx="303.12" cy="221.3" r="1.65"/><circle cx="303.62" cy="221.48" r="1.65"/><circle cx="304.11" cy="221.65" r="1.65"/><circle cx="304.61" cy="221.81" r="1.65"/><circle cx="305.1" cy="221.97" r="1.65"/><circle cx="305.6" cy="222.13" r="1.65"/><circle cx="306.09" cy="222.27" r="1.65"/><circle cx="306.59" cy="222.42" r="1.65"/><circle cx="307.08" cy="222.56" r="1.65"/><circle cx="307.58" cy="222.69" r="1.65"/><circle cx="308.07" cy="222.83" r="1.65"/><circle cx="308.57" cy="222.96" r="1.65"/><circle cx="309.06" cy="223.08" r="1.65"/><circle cx="309.56" cy="223.21" r="1.65"/><circle cx="310.05" cy="223.33" r="1.65"/><circle cx="310.55" cy="223.45" r="1.65"/><circle cx="311.04" cy="223.57" r="1.65"/><circle cx="311.54" cy="223.69" r="1.65"/><circle cx="312.03" cy="223.81" r="1.65"/><circle cx="312.53" cy="223.92" r="1.65"/><circle cx="313.02" cy="224.04" r="1.65"/><circle cx="313.52" cy="224.16" r="1.65"/><circle cx="314.01" cy="224.27" r="1.65"/><circle cx="314.51" cy="224.39" r="1.65"/><circle cx="315" cy="224.5" r="1.65"/><circle cx="315.5" cy="224.62" r="1.65"/><circle cx="315.99" cy="224.73" r="1.65"/><circle cx="316.49" cy="224.84" r="1.65"/><circle cx="316.98" cy="224.95" r="1.65"/><circle cx="317.48" cy="225.05" r="1.65"/><circle cx="317.97" cy="225.16" r="1.65"/><circle cx="318.47" cy="225.26" r="1.65"/><circle cx="318.96" cy="225.36" r="1.65"/><circle cx="319.46" cy="225.46" r="1.65"/><circle cx="319.95" cy="225.56" r="1.65"/><circle cx="320.45" cy="225.66" r="1.65"/><circle cx="320.94" cy="225.75" r="1.65"/><circle cx="321.44" cy="225.85" r="1.65"/><circle cx="321.93" cy="225.94" r="1.65"/><circle cx="322.43" cy="226.03" r="1.65"/><circle cx="322.92" cy="226.12" r="1.65"/><circle cx="323.42" cy="226.2" r="1.65"/><circle cx="323.91" cy="226.29" r="1.65"/></g>
</g>
</svg>
<svg x="0" y="0" width="669" height="533" overflow="hidden">
<clipPath id="cab"><rect x="353.75" y="8.1" width="148.95" height="223.7"/></clipPath>
<clipPath id="cbb"><rect x="507.3" y="8.1" width="149.4" height="223.7"/></clipPath>
<g clip-path="url(#cab)">
<path d="M354,224.6 L357.76,224.59 L362.74,224.2 L367.72,223.29 L372.7,221.74 L377.68,219.45 L382.66,216.51 L387.64,212.59 L392.62,207.14 L397.6,199.45 L402.58,187.85 L407.56,167.45 L412.54,134.83 L417.52,85.95 L422.5,32.9 L427.48,32.9 L432.46,78.6 L437.44,126.98 L442.42,160.66 L447.4,182.57 L452.38,197.01 L457.36,205.81 L462.34,211.38 L467.32,215.32 L472.3,218.25 L477.28,220.37 L482.26,221.81 L487.24,222.87 L492.22,223.85 L497.2,224.67 L502.18,225.37 L502.4,225.4" fill="none" stroke="#1a1a1a" stroke-width="0.9" stroke-linejoin="round"/>
<path d="M354.7,230.38 L355.7,230.35 L356.7,230.31 L357.7,230.27 L358.7,230.23 L359.7,230.19 L360.7,230.15 L361.7,230.1 L362.7,230.06 L363.7,230.01 L364.7,229.96 L365.7,229.91 L366.7,229.85 L367.7,229.8 L368.7,229.74 L369.7,229.69 L370.7,229.63 L371.7,229.57 L372.7,229.51 L373.7,229.45 L374.7,229.39 L375.7,229.33 L376.7,229.26 L377.7,229.19 L378.7,229.12 L379.7,229.04 L380.7,228.96 L381.7,228.88 L382.7,228.79 L383.7,228.7 L384.7,228.6 L385.7,228.49 L386.7,228.37 L387.7,228.24 L388.7,228.09 L389.7,227.93 L390.7,227.76 L391.7,227.58 L392.7,227.38 L393.7,227.18 L394.7,226.97 L395.7,226.74 L396.7,226.51 L397.7,226.27 L398.7,226.02 L399.7,225.75 L400.7,225.44 L401.7,225.1 L402.7,224.72 L403.7,224.28 L404.7,223.72 L405.7,223.11 L406.7,222.48 L407.7,221.89 L408.7,221.29 L409.7,220.64 L410.7,219.87 L411.7,218.9 L412.7,217.81 L413.7,216.69 L414.7,215.45 L415.7,213.95 L416.7,212.05 L417.7,210.16 L418.7,208.38 L419.7,206.4 L420.7,203.8 L421.7,200.01 L422.7,194.5 L423.7,185.19 L424.7,175.88 L425.7,161.32 L426.7,139.75 L427.7,114.89 L428.7,93.66 L429.7,59.34 L430.7,52.77 L431.7,52.1 L432.7,52.84 L433.7,59.91 L434.7,68.4 L435.7,74.86 L436.7,86.66 L437.7,94.7 L438.7,104.7 L439.7,114.23 L440.7,122.06 L441.7,128.8 L442.7,135.1 L443.7,142.4 L444.7,147.63 L445.7,152.78 L446.7,157.25 L447.7,162.55 L448.7,167.87 L449.7,172.1 L450.7,176.17 L451.7,180.86 L452.7,184.46 L453.7,187.22 L454.7,189.76 L455.7,192.35 L456.7,194.84 L457.7,197.03 L458.7,198.8 L459.7,200.31 L460.7,201.69 L461.7,203.1 L462.7,204.62 L463.7,206.19 L464.7,207.78 L465.7,209.33 L466.7,210.81 L467.7,212.18 L468.7,213.38 L469.7,214.44 L470.7,215.43 L471.7,216.37 L472.7,217.25 L473.7,218.07 L474.7,218.83 L475.7,219.52 L476.7,220.14 L477.7,220.71 L478.7,221.25 L479.7,221.77 L480.7,222.25 L481.7,222.71 L482.7,223.14 L483.7,223.54 L484.7,223.92 L485.7,224.28 L486.7,224.61 L487.7,224.92 L488.7,225.23 L489.7,225.52 L490.7,225.81 L491.7,226.09 L492.7,226.36 L493.7,226.62 L494.7,226.87 L495.7,227.1 L496.7,227.31 L497.7,227.5 L498.7,227.67 L499.7,227.83 L500.7,227.96 L501.7,228.06 L502.7,228.14" fill="none" stroke="#ff0000" stroke-width="1.0" stroke-linejoin="round"/>
<g fill="#ff0000"><circle cx="354.7" cy="230.38" r="1.8"/><circle cx="355.7" cy="230.35" r="1.8"/><circle cx="356.7" cy="230.31" r="1.8"/><circle cx="357.7" cy="230.27" r="1.8"/><circle cx="358.7" cy="230.23" r="1.8"/><circle cx="359.7" cy="230.19" r="1.8"/><circle cx="360.7" cy="230.15" r="1.8"/><circle cx="361.7" cy="230.1" r="1.8"/><circle cx="362.7" cy="230.06" r="1.8"/><circle cx="363.7" cy="230.01" r="1.8"/><circle cx="364.7" cy="229.96" r="1.8"/><circle cx="365.7" cy="229.91" r="1.8"/><circle cx="366.7" cy="229.85" r="1.8"/><circle cx="367.7" cy="229.8" r="1.8"/><circle cx="368.7" cy="229.74" r="1.8"/><circle cx="369.7" cy="229.69" r="1.8"/><circle cx="370.7" cy="229.63" r="1.8"/><circle cx="371.7" cy="229.57" r="1.8"/><circle cx="372.7" cy="229.51" r="1.8"/><circle cx="373.7" cy="229.45" r="1.8"/><circle cx="374.7" cy="229.39" r="1.8"/><circle cx="375.7" cy="229.33" r="1.8"/><circle cx="376.7" cy="229.26" r="1.8"/><circle cx="377.7" cy="229.19" r="1.8"/><circle cx="378.7" cy="229.12" r="1.8"/><circle cx="379.7" cy="229.04" r="1.8"/><circle cx="380.7" cy="228.96" r="1.8"/><circle cx="381.7" cy="228.88" r="1.8"/><circle cx="382.7" cy="228.79" r="1.8"/><circle cx="383.7" cy="228.7" r="1.8"/><circle cx="384.7" cy="228.6" r="1.8"/><circle cx="385.7" cy="228.49" r="1.8"/><circle cx="386.7" cy="228.37" r="1.8"/><circle cx="387.7" cy="228.24" r="1.8"/><circle cx="388.7" cy="228.09" r="1.8"/><circle cx="389.7" cy="227.93" r="1.8"/><circle cx="390.7" cy="227.76" r="1.8"/><circle cx="391.7" cy="227.58" r="1.8"/><circle cx="392.7" cy="227.38" r="1.8"/><circle cx="393.7" cy="227.18" r="1.8"/><circle cx="394.7" cy="226.97" r="1.8"/><circle cx="395.7" cy="226.74" r="1.8"/><circle cx="396.7" cy="226.51" r="1.8"/><circle cx="397.7" cy="226.27" r="1.8"/><circle cx="398.7" cy="226.02" r="1.8"/><circle cx="399.7" cy="225.75" r="1.8"/><circle cx="400.7" cy="225.44" r="1.8"/><circle cx="401.7" cy="225.1" r="1.8"/><circle cx="402.7" cy="224.72" r="1.8"/><circle cx="403.7" cy="224.28" r="1.8"/><circle cx="404.7" cy="223.72" r="1.8"/><circle cx="405.7" cy="223.11" r="1.8"/><circle cx="406.7" cy="222.48" r="1.8"/><circle cx="407.7" cy="221.89" r="1.8"/><circle cx="408.7" cy="221.29" r="1.8"/><circle cx="409.7" cy="220.64" r="1.8"/><circle cx="410.7" cy="219.87" r="1.8"/><circle cx="411.7" cy="218.9" r="1.8"/><circle cx="412.7" cy="217.81" r="1.8"/><circle cx="413.7" cy="216.69" r="1.8"/><circle cx="414.7" cy="215.45" r="1.8"/><circle cx="415.7" cy="213.95" r="1.8"/><circle cx="416.7" cy="212.05" r="1.8"/><circle cx="417.7" cy="210.16" r="1.8"/><circle cx="418.7" cy="208.38" r="1.8"/><circle cx="419.7" cy="206.4" r="1.8"/><circle cx="420.7" cy="203.8" r="1.8"/><circle cx="421.7" cy="200.01" r="1.8"/><circle cx="422.7" cy="194.5" r="1.8"/><circle cx="423.7" cy="185.19" r="1.8"/><circle cx="424.7" cy="175.88" r="1.8"/><circle cx="425.7" cy="161.32" r="1.8"/><circle cx="426.7" cy="139.75" r="1.8"/><circle cx="427.7" cy="114.89" r="1.8"/><circle cx="428.7" cy="93.66" r="1.8"/><circle cx="429.7" cy="59.34" r="1.8"/><circle cx="430.7" cy="52.77" r="1.8"/><circle cx="431.7" cy="52.1" r="1.8"/><circle cx="432.7" cy="52.84" r="1.8"/><circle cx="433.7" cy="59.91" r="1.8"/><circle cx="434.7" cy="68.4" r="1.8"/><circle cx="435.7" cy="74.86" r="1.8"/><circle cx="436.7" cy="86.66" r="1.8"/><circle cx="437.7" cy="94.7" r="1.8"/><circle cx="438.7" cy="104.7" r="1.8"/><circle cx="439.7" cy="114.23" r="1.8"/><circle cx="440.7" cy="122.06" r="1.8"/><circle cx="441.7" cy="128.8" r="1.8"/><circle cx="442.7" cy="135.1" r="1.8"/><circle cx="443.7" cy="142.4" r="1.8"/><circle cx="444.7" cy="147.63" r="1.8"/><circle cx="445.7" cy="152.78" r="1.8"/><circle cx="446.7" cy="157.25" r="1.8"/><circle cx="447.7" cy="162.55" r="1.8"/><circle cx="448.7" cy="167.87" r="1.8"/><circle cx="449.7" cy="172.1" r="1.8"/><circle cx="450.7" cy="176.17" r="1.8"/><circle cx="451.7" cy="180.86" r="1.8"/><circle cx="452.7" cy="184.46" r="1.8"/><circle cx="453.7" cy="187.22" r="1.8"/><circle cx="454.7" cy="189.76" r="1.8"/><circle cx="455.7" cy="192.35" r="1.8"/><circle cx="456.7" cy="194.84" r="1.8"/><circle cx="457.7" cy="197.03" r="1.8"/><circle cx="458.7" cy="198.8" r="1.8"/><circle cx="459.7" cy="200.31" r="1.8"/><circle cx="460.7" cy="201.69" r="1.8"/><circle cx="461.7" cy="203.1" r="1.8"/><circle cx="462.7" cy="204.62" r="1.8"/><circle cx="463.7" cy="206.19" r="1.8"/><circle cx="464.7" cy="207.78" r="1.8"/><circle cx="465.7" cy="209.33" r="1.8"/><circle cx="466.7" cy="210.81" r="1.8"/><circle cx="467.7" cy="212.18" r="1.8"/><circle cx="468.7" cy="213.38" r="1.8"/><circle cx="469.7" cy="214.44" r="1.8"/><circle cx="470.7" cy="215.43" r="1.8"/><circle cx="471.7" cy="216.37" r="1.8"/><circle cx="472.7" cy="217.25" r="1.8"/><circle cx="473.7" cy="218.07" r="1.8"/><circle cx="474.7" cy="218.83" r="1.8"/><circle cx="475.7" cy="219.52" r="1.8"/><circle cx="476.7" cy="220.14" r="1.8"/><circle cx="477.7" cy="220.71" r="1.8"/><circle cx="478.7" cy="221.25" r="1.8"/><circle cx="479.7" cy="221.77" r="1.8"/><circle cx="480.7" cy="222.25" r="1.8"/><circle cx="481.7" cy="222.71" r="1.8"/><circle cx="482.7" cy="223.14" r="1.8"/><circle cx="483.7" cy="223.54" r="1.8"/><circle cx="484.7" cy="223.92" r="1.8"/><circle cx="485.7" cy="224.28" r="1.8"/><circle cx="486.7" cy="224.61" r="1.8"/><circle cx="487.7" cy="224.92" r="1.8"/><circle cx="488.7" cy="225.23" r="1.8"/><circle cx="489.7" cy="225.52" r="1.8"/><circle cx="490.7" cy="225.81" r="1.8"/><circle cx="491.7" cy="226.09" r="1.8"/><circle cx="492.7" cy="226.36" r="1.8"/><circle cx="493.7" cy="226.62" r="1.8"/><circle cx="494.7" cy="226.87" r="1.8"/><circle cx="495.7" cy="227.1" r="1.8"/><circle cx="496.7" cy="227.31" r="1.8"/><circle cx="497.7" cy="227.5" r="1.8"/><circle cx="498.7" cy="227.67" r="1.8"/><circle cx="499.7" cy="227.83" r="1.8"/><circle cx="500.7" cy="227.96" r="1.8"/><circle cx="501.7" cy="228.06" r="1.8"/><circle cx="502.7" cy="228.14" r="1.8"/></g>
</g>
<g clip-path="url(#cbb)">
<path d="M508,212.01 L512.95,209.63 L517.9,206.82 L522.85,203.62 L527.8,199.6 L532.75,194.32 L537.7,186.86 L542.65,175.52 L547.6,160.27 L552.55,141.23 L557.5,115.87 L562.45,85.2 L567.4,59.27 L572.35,48.4 L577.3,57.4 L582.25,78.97 L587.2,104.84 L592.15,129.28 L597.1,151.5 L602.05,167.67 L607,180.11 L611.95,189.74 L616.9,196.65 L621.85,201.77 L626.8,205.45 L631.75,208.49 L636.7,211.07 L641.65,213.3 L641.9,213.4" fill="none" stroke="#1a1a1a" stroke-width="0.9" stroke-linejoin="round"/>
<path d="M505.71,228.78 L506.21,228.72 L506.7,228.65 L507.2,228.59 L507.69,228.51 L508.19,228.43 L508.68,228.35 L509.18,228.27 L509.67,228.18 L510.17,228.09 L510.66,228 L511.16,227.9 L511.65,227.81 L512.15,227.72 L512.64,227.63 L513.14,227.54 L513.63,227.46 L514.13,227.38 L514.62,227.3 L515.12,227.22 L515.61,227.14 L516.11,227.06 L516.6,226.98 L517.1,226.9 L517.59,226.83 L518.09,226.75 L518.58,226.67 L519.08,226.6 L519.57,226.52 L520.07,226.44 L520.56,226.37 L521.06,226.29 L521.55,226.21 L522.05,226.13 L522.54,226.05 L523.04,225.96 L523.53,225.88 L524.03,225.79 L524.52,225.7 L525.02,225.61 L525.51,225.51 L526.01,225.42 L526.5,225.32 L527,225.22 L527.49,225.12 L527.99,225.02 L528.48,224.92 L528.98,224.82 L529.47,224.71 L529.97,224.61 L530.46,224.5 L530.96,224.39 L531.45,224.28 L531.95,224.17 L532.44,224.05 L532.94,223.94 L533.43,223.82 L533.93,223.7 L534.42,223.57 L534.92,223.44 L535.41,223.31 L535.91,223.18 L536.4,223.04 L536.9,222.9 L537.39,222.76 L537.89,222.61 L538.38,222.46 L538.88,222.3 L539.37,222.14 L539.87,221.98 L540.36,221.81 L540.86,221.63 L541.35,221.44 L541.85,221.25 L542.34,221.05 L542.84,220.83 L543.33,220.61 L543.83,220.39 L544.32,220.15 L544.82,219.91 L545.31,219.65 L545.81,219.39 L546.3,219.13 L546.8,218.85 L547.29,218.57 L547.79,218.28 L548.28,217.98 L548.78,217.68 L549.27,217.37 L549.77,217.05 L550.26,216.72 L550.76,216.38 L551.25,216.02 L551.75,215.65 L552.24,215.26 L552.74,214.85 L553.23,214.43 L553.73,213.99 L554.22,213.54 L554.72,213.08 L555.21,212.6 L555.71,212.1 L556.2,211.6 L556.7,211.08 L557.19,210.55 L557.69,210 L558.18,209.45 L558.68,208.87 L559.17,208.28 L559.67,207.66 L560.16,207.01 L560.66,206.33 L561.15,205.63 L561.65,204.89 L562.14,204.13 L562.64,203.33 L563.13,202.51 L563.63,201.65 L564.12,200.75 L564.62,199.82 L565.11,198.84 L565.61,197.79 L566.1,196.69 L566.6,195.52 L567.09,194.27 L567.59,192.95 L568.08,191.54 L568.58,190.04 L569.07,188.41 L569.57,186.61 L570.06,184.63 L570.56,182.41 L571.05,179.94 L571.55,176.68 L572.04,172.7 L572.54,169.27 L573.03,167.04 L573.53,164.98 L574.02,161.7 L574.52,155.09 L575.01,149.32 L575.51,144.91 L576,140.92 L576.5,136.81 L576.99,132.05 L577.49,125.96 L577.98,119.08 L578.48,112.73 L578.97,107.75 L579.47,103.49 L579.96,99 L580.46,93.34 L580.95,84.05 L581.45,75.43 L581.94,69.72 L582.44,64.42 L582.93,59.37 L583.43,54.61 L583.92,50.34 L584.42,47.77 L584.91,45.57 L585.41,43.77 L585.9,42.55 L586.4,42.1 L586.89,42.51 L587.39,43.63 L587.88,45.28 L588.38,47.27 L588.88,49.44 L589.37,52.06 L589.87,55.7 L590.36,59.56 L590.86,63.6 L591.35,67.74 L591.85,71.48 L592.34,74.82 L592.84,78.12 L593.33,81.73 L593.83,85.86 L594.32,90.33 L594.82,95.1 L595.31,100.27 L595.81,105.04 L596.3,109.12 L596.8,112.85 L597.29,116.41 L597.79,119.94 L598.28,123.55 L598.78,127.15 L599.27,130.71 L599.77,134.24 L600.26,137.72 L600.76,141.19 L601.25,144.64 L601.75,148.03 L602.24,151.33 L602.74,154.49 L603.23,157.55 L603.73,160.46 L604.22,163.19 L604.72,165.79 L605.21,168.2 L605.71,170.35 L606.2,172.23 L606.7,174.08 L607.19,176.07 L607.69,178.15 L608.18,180.27 L608.68,182.36 L609.17,184.38 L609.67,186.27 L610.16,187.97 L610.66,189.53 L611.15,191.04 L611.65,192.5 L612.14,193.9 L612.64,195.24 L613.13,196.51 L613.63,197.71 L614.12,198.83 L614.62,199.87 L615.11,200.82 L615.61,201.71 L616.1,202.56 L616.6,203.38 L617.09,204.16 L617.59,204.91 L618.08,205.63 L618.58,206.32 L619.07,206.99 L619.57,207.62 L620.06,208.23 L620.56,208.82 L621.05,209.38 L621.55,209.92 L622.04,210.44 L622.54,210.94 L623.03,211.43 L623.53,211.9 L624.02,212.37 L624.52,212.82 L625.01,213.26 L625.51,213.69 L626,214.11 L626.5,214.52 L626.99,214.91 L627.49,215.29 L627.98,215.67 L628.48,216.03 L628.97,216.38 L629.47,216.72 L629.96,217.05 L630.46,217.37 L630.95,217.68 L631.45,217.98 L631.94,218.27 L632.44,218.55 L632.93,218.82 L633.43,219.09 L633.92,219.36 L634.42,219.62 L634.91,219.87 L635.41,220.12 L635.9,220.37 L636.4,220.61 L636.89,220.84 L637.39,221.07 L637.88,221.29 L638.38,221.5 L638.87,221.71 L639.37,221.91 L639.86,222.11 L640.36,222.3 L640.85,222.49 L641.35,222.66 L641.84,222.84 L642.34,223 L642.83,223.16 L643.33,223.31 L643.82,223.45 L644.32,223.6 L644.81,223.74 L645.31,223.88 L645.8,224.02 L646.3,224.15 L646.79,224.28 L647.29,224.41 L647.78,224.54 L648.28,224.66 L648.77,224.78 L649.27,224.9 L649.76,225.01 L650.26,225.12 L650.75,225.23 L651.25,225.33 L651.74,225.43 L652.24,225.53 L652.73,225.62 L653.23,225.71 L653.72,225.79 L654.22,225.87 L654.71,225.94 L655.21,226.01 L655.7,226.08 L656.2,226.13 L656.69,226.19 L657.19,226.23 L657.68,226.27" fill="none" stroke="#ff0000" stroke-width="0.7" stroke-linejoin="round"/>
<g fill="#ff0000"><circle cx="505.71" cy="228.78" r="1.65"/><circle cx="506.21" cy="228.72" r="1.65"/><circle cx="506.7" cy="228.65" r="1.65"/><circle cx="507.2" cy="228.59" r="1.65"/><circle cx="507.69" cy="228.51" r="1.65"/><circle cx="508.19" cy="228.43" r="1.65"/><circle cx="508.68" cy="228.35" r="1.65"/><circle cx="509.18" cy="228.27" r="1.65"/><circle cx="509.67" cy="228.18" r="1.65"/><circle cx="510.17" cy="228.09" r="1.65"/><circle cx="510.66" cy="228" r="1.65"/><circle cx="511.16" cy="227.9" r="1.65"/><circle cx="511.65" cy="227.81" r="1.65"/><circle cx="512.15" cy="227.72" r="1.65"/><circle cx="512.64" cy="227.63" r="1.65"/><circle cx="513.14" cy="227.54" r="1.65"/><circle cx="513.63" cy="227.46" r="1.65"/><circle cx="514.13" cy="227.38" r="1.65"/><circle cx="514.62" cy="227.3" r="1.65"/><circle cx="515.12" cy="227.22" r="1.65"/><circle cx="515.61" cy="227.14" r="1.65"/><circle cx="516.11" cy="227.06" r="1.65"/><circle cx="516.6" cy="226.98" r="1.65"/><circle cx="517.1" cy="226.9" r="1.65"/><circle cx="517.59" cy="226.83" r="1.65"/><circle cx="518.09" cy="226.75" r="1.65"/><circle cx="518.58" cy="226.67" r="1.65"/><circle cx="519.08" cy="226.6" r="1.65"/><circle cx="519.57" cy="226.52" r="1.65"/><circle cx="520.07" cy="226.44" r="1.65"/><circle cx="520.56" cy="226.37" r="1.65"/><circle cx="521.06" cy="226.29" r="1.65"/><circle cx="521.55" cy="226.21" r="1.65"/><circle cx="522.05" cy="226.13" r="1.65"/><circle cx="522.54" cy="226.05" r="1.65"/><circle cx="523.04" cy="225.96" r="1.65"/><circle cx="523.53" cy="225.88" r="1.65"/><circle cx="524.03" cy="225.79" r="1.65"/><circle cx="524.52" cy="225.7" r="1.65"/><circle cx="525.02" cy="225.61" r="1.65"/><circle cx="525.51" cy="225.51" r="1.65"/><circle cx="526.01" cy="225.42" r="1.65"/><circle cx="526.5" cy="225.32" r="1.65"/><circle cx="527" cy="225.22" r="1.65"/><circle cx="527.49" cy="225.12" r="1.65"/><circle cx="527.99" cy="225.02" r="1.65"/><circle cx="528.48" cy="224.92" r="1.65"/><circle cx="528.98" cy="224.82" r="1.65"/><circle cx="529.47" cy="224.71" r="1.65"/><circle cx="529.97" cy="224.61" r="1.65"/><circle cx="530.46" cy="224.5" r="1.65"/><circle cx="530.96" cy="224.39" r="1.65"/><circle cx="531.45" cy="224.28" r="1.65"/><circle cx="531.95" cy="224.17" r="1.65"/><circle cx="532.44" cy="224.05" r="1.65"/><circle cx="532.94" cy="223.94" r="1.65"/><circle cx="533.43" cy="223.82" r="1.65"/><circle cx="533.93" cy="223.7" r="1.65"/><circle cx="534.42" cy="223.57" r="1.65"/><circle cx="534.92" cy="223.44" r="1.65"/><circle cx="535.41" cy="223.31" r="1.65"/><circle cx="535.91" cy="223.18" r="1.65"/><circle cx="536.4" cy="223.04" r="1.65"/><circle cx="536.9" cy="222.9" r="1.65"/><circle cx="537.39" cy="222.76" r="1.65"/><circle cx="537.89" cy="222.61" r="1.65"/><circle cx="538.38" cy="222.46" r="1.65"/><circle cx="538.88" cy="222.3" r="1.65"/><circle cx="539.37" cy="222.14" r="1.65"/><circle cx="539.87" cy="221.98" r="1.65"/><circle cx="540.36" cy="221.81" r="1.65"/><circle cx="540.86" cy="221.63" r="1.65"/><circle cx="541.35" cy="221.44" r="1.65"/><circle cx="541.85" cy="221.25" r="1.65"/><circle cx="542.34" cy="221.05" r="1.65"/><circle cx="542.84" cy="220.83" r="1.65"/><circle cx="543.33" cy="220.61" r="1.65"/><circle cx="543.83" cy="220.39" r="1.65"/><circle cx="544.32" cy="220.15" r="1.65"/><circle cx="544.82" cy="219.91" r="1.65"/><circle cx="545.31" cy="219.65" r="1.65"/><circle cx="545.81" cy="219.39" r="1.65"/><circle cx="546.3" cy="219.13" r="1.65"/><circle cx="546.8" cy="218.85" r="1.65"/><circle cx="547.29" cy="218.57" r="1.65"/><circle cx="547.79" cy="218.28" r="1.65"/><circle cx="548.28" cy="217.98" r="1.65"/><circle cx="548.78" cy="217.68" r="1.65"/><circle cx="549.27" cy="217.37" r="1.65"/><circle cx="549.77" cy="217.05" r="1.65"/><circle cx="550.26" cy="216.72" r="1.65"/><circle cx="550.76" cy="216.38" r="1.65"/><circle cx="551.25" cy="216.02" r="1.65"/><circle cx="551.75" cy="215.65" r="1.65"/><circle cx="552.24" cy="215.26" r="1.65"/><circle cx="552.74" cy="214.85" r="1.65"/><circle cx="553.23" cy="214.43" r="1.65"/><circle cx="553.73" cy="213.99" r="1.65"/><circle cx="554.22" cy="213.54" r="1.65"/><circle cx="554.72" cy="213.08" r="1.65"/><circle cx="555.21" cy="212.6" r="1.65"/><circle cx="555.71" cy="212.1" r="1.65"/><circle cx="556.2" cy="211.6" r="1.65"/><circle cx="556.7" cy="211.08" r="1.65"/><circle cx="557.19" cy="210.55" r="1.65"/><circle cx="557.69" cy="210" r="1.65"/><circle cx="558.18" cy="209.45" r="1.65"/><circle cx="558.68" cy="208.87" r="1.65"/><circle cx="559.17" cy="208.28" r="1.65"/><circle cx="559.67" cy="207.66" r="1.65"/><circle cx="560.16" cy="207.01" r="1.65"/><circle cx="560.66" cy="206.33" r="1.65"/><circle cx="561.15" cy="205.63" r="1.65"/><circle cx="561.65" cy="204.89" r="1.65"/><circle cx="562.14" cy="204.13" r="1.65"/><circle cx="562.64" cy="203.33" r="1.65"/><circle cx="563.13" cy="202.51" r="1.65"/><circle cx="563.63" cy="201.65" r="1.65"/><circle cx="564.12" cy="200.75" r="1.65"/><circle cx="564.62" cy="199.82" r="1.65"/><circle cx="565.11" cy="198.84" r="1.65"/><circle cx="565.61" cy="197.79" r="1.65"/><circle cx="566.1" cy="196.69" r="1.65"/><circle cx="566.6" cy="195.52" r="1.65"/><circle cx="567.09" cy="194.27" r="1.65"/><circle cx="567.59" cy="192.95" r="1.65"/><circle cx="568.08" cy="191.54" r="1.65"/><circle cx="568.58" cy="190.04" r="1.65"/><circle cx="569.07" cy="188.41" r="1.65"/><circle cx="569.57" cy="186.61" r="1.65"/><circle cx="570.06" cy="184.63" r="1.65"/><circle cx="570.56" cy="182.41" r="1.65"/><circle cx="571.05" cy="179.94" r="1.65"/><circle cx="571.55" cy="176.68" r="1.65"/><circle cx="572.04" cy="172.7" r="1.65"/><circle cx="572.54" cy="169.27" r="1.65"/><circle cx="573.03" cy="167.04" r="1.65"/><circle cx="573.53" cy="164.98" r="1.65"/><circle cx="574.02" cy="161.7" r="1.65"/><circle cx="574.52" cy="155.09" r="1.65"/><circle cx="575.01" cy="149.32" r="1.65"/><circle cx="575.51" cy="144.91" r="1.65"/><circle cx="576" cy="140.92" r="1.65"/><circle cx="576.5" cy="136.81" r="1.65"/><circle cx="576.99" cy="132.05" r="1.65"/><circle cx="577.49" cy="125.96" r="1.65"/><circle cx="577.98" cy="119.08" r="1.65"/><circle cx="578.48" cy="112.73" r="1.65"/><circle cx="578.97" cy="107.75" r="1.65"/><circle cx="579.47" cy="103.49" r="1.65"/><circle cx="579.96" cy="99" r="1.65"/><circle cx="580.46" cy="93.34" r="1.65"/><circle cx="580.95" cy="84.05" r="1.65"/><circle cx="581.45" cy="75.43" r="1.65"/><circle cx="581.94" cy="69.72" r="1.65"/><circle cx="582.44" cy="64.42" r="1.65"/><circle cx="582.93" cy="59.37" r="1.65"/><circle cx="583.43" cy="54.61" r="1.65"/><circle cx="583.92" cy="50.34" r="1.65"/><circle cx="584.42" cy="47.77" r="1.65"/><circle cx="584.91" cy="45.57" r="1.65"/><circle cx="585.41" cy="43.77" r="1.65"/><circle cx="585.9" cy="42.55" r="1.65"/><circle cx="586.4" cy="42.1" r="1.65"/><circle cx="586.89" cy="42.51" r="1.65"/><circle cx="587.39" cy="43.63" r="1.65"/><circle cx="587.88" cy="45.28" r="1.65"/><circle cx="588.38" cy="47.27" r="1.65"/><circle cx="588.88" cy="49.44" r="1.65"/><circle cx="589.37" cy="52.06" r="1.65"/><circle cx="589.87" cy="55.7" r="1.65"/><circle cx="590.36" cy="59.56" r="1.65"/><circle cx="590.86" cy="63.6" r="1.65"/><circle cx="591.35" cy="67.74" r="1.65"/><circle cx="591.85" cy="71.48" r="1.65"/><circle cx="592.34" cy="74.82" r="1.65"/><circle cx="592.84" cy="78.12" r="1.65"/><circle cx="593.33" cy="81.73" r="1.65"/><circle cx="593.83" cy="85.86" r="1.65"/><circle cx="594.32" cy="90.33" r="1.65"/><circle cx="594.82" cy="95.1" r="1.65"/><circle cx="595.31" cy="100.27" r="1.65"/><circle cx="595.81" cy="105.04" r="1.65"/><circle cx="596.3" cy="109.12" r="1.65"/><circle cx="596.8" cy="112.85" r="1.65"/><circle cx="597.29" cy="116.41" r="1.65"/><circle cx="597.79" cy="119.94" r="1.65"/><circle cx="598.28" cy="123.55" r="1.65"/><circle cx="598.78" cy="127.15" r="1.65"/><circle cx="599.27" cy="130.71" r="1.65"/><circle cx="599.77" cy="134.24" r="1.65"/><circle cx="600.26" cy="137.72" r="1.65"/><circle cx="600.76" cy="141.19" r="1.65"/><circle cx="601.25" cy="144.64" r="1.65"/><circle cx="601.75" cy="148.03" r="1.65"/><circle cx="602.24" cy="151.33" r="1.65"/><circle cx="602.74" cy="154.49" r="1.65"/><circle cx="603.23" cy="157.55" r="1.65"/><circle cx="603.73" cy="160.46" r="1.65"/><circle cx="604.22" cy="163.19" r="1.65"/><circle cx="604.72" cy="165.79" r="1.65"/><circle cx="605.21" cy="168.2" r="1.65"/><circle cx="605.71" cy="170.35" r="1.65"/><circle cx="606.2" cy="172.23" r="1.65"/><circle cx="606.7" cy="174.08" r="1.65"/><circle cx="607.19" cy="176.07" r="1.65"/><circle cx="607.69" cy="178.15" r="1.65"/><circle cx="608.18" cy="180.27" r="1.65"/><circle cx="608.68" cy="182.36" r="1.65"/><circle cx="609.17" cy="184.38" r="1.65"/><circle cx="609.67" cy="186.27" r="1.65"/><circle cx="610.16" cy="187.97" r="1.65"/><circle cx="610.66" cy="189.53" r="1.65"/><circle cx="611.15" cy="191.04" r="1.65"/><circle cx="611.65" cy="192.5" r="1.65"/><circle cx="612.14" cy="193.9" r="1.65"/><circle cx="612.64" cy="195.24" r="1.65"/><circle cx="613.13" cy="196.51" r="1.65"/><circle cx="613.63" cy="197.71" r="1.65"/><circle cx="614.12" cy="198.83" r="1.65"/><circle cx="614.62" cy="199.87" r="1.65"/><circle cx="615.11" cy="200.82" r="1.65"/><circle cx="615.61" cy="201.71" r="1.65"/><circle cx="616.1" cy="202.56" r="1.65"/><circle cx="616.6" cy="203.38" r="1.65"/><circle cx="617.09" cy="204.16" r="1.65"/><circle cx="617.59" cy="204.91" r="1.65"/><circle cx="618.08" cy="205.63" r="1.65"/><circle cx="618.58" cy="206.32" r="1.65"/><circle cx="619.07" cy="206.99" r="1.65"/><circle cx="619.57" cy="207.62" r="1.65"/><circle cx="620.06" cy="208.23" r="1.65"/><circle cx="620.56" cy="208.82" r="1.65"/><circle cx="621.05" cy="209.38" r="1.65"/><circle cx="621.55" cy="209.92" r="1.65"/><circle cx="622.04" cy="210.44" r="1.65"/><circle cx="622.54" cy="210.94" r="1.65"/><circle cx="623.03" cy="211.43" r="1.65"/><circle cx="623.53" cy="211.9" r="1.65"/><circle cx="624.02" cy="212.37" r="1.65"/><circle cx="624.52" cy="212.82" r="1.65"/><circle cx="625.01" cy="213.26" r="1.65"/><circle cx="625.51" cy="213.69" r="1.65"/><circle cx="626" cy="214.11" r="1.65"/><circle cx="626.5" cy="214.52" r="1.65"/><circle cx="626.99" cy="214.91" r="1.65"/><circle cx="627.49" cy="215.29" r="1.65"/><circle cx="627.98" cy="215.67" r="1.65"/><circle cx="628.48" cy="216.03" r="1.65"/><circle cx="628.97" cy="216.38" r="1.65"/><circle cx="629.47" cy="216.72" r="1.65"/><circle cx="629.96" cy="217.05" r="1.65"/><circle cx="630.46" cy="217.37" r="1.65"/><circle cx="630.95" cy="217.68" r="1.65"/><circle cx="631.45" cy="217.98" r="1.65"/><circle cx="631.94" cy="218.27" r="1.65"/><circle cx="632.44" cy="218.55" r="1.65"/><circle cx="632.93" cy="218.82" r="1.65"/><circle cx="633.43" cy="219.09" r="1.65"/><circle cx="633.92" cy="219.36" r="1.65"/><circle cx="634.42" cy="219.62" r="1.65"/><circle cx="634.91" cy="219.87" r="1.65"/><circle cx="635.41" cy="220.12" r="1.65"/><circle cx="635.9" cy="220.37" r="1.65"/><circle cx="636.4" cy="220.61" r="1.65"/><circle cx="636.89" cy="220.84" r="1.65"/><circle cx="637.39" cy="221.07" r="1.65"/><circle cx="637.88" cy="221.29" r="1.65"/><circle cx="638.38" cy="221.5" r="1.65"/><circle cx="638.87" cy="221.71" r="1.65"/><circle cx="639.37" cy="221.91" r="1.65"/><circle cx="639.86" cy="222.11" r="1.65"/><circle cx="640.36" cy="222.3" r="1.65"/><circle cx="640.85" cy="222.49" r="1.65"/><circle cx="641.35" cy="222.66" r="1.65"/><circle cx="641.84" cy="222.84" r="1.65"/><circle cx="642.34" cy="223" r="1.65"/><circle cx="642.83" cy="223.16" r="1.65"/><circle cx="643.33" cy="223.31" r="1.65"/><circle cx="643.82" cy="223.45" r="1.65"/><circle cx="644.32" cy="223.6" r="1.65"/><circle cx="644.81" cy="223.74" r="1.65"/><circle cx="645.31" cy="223.88" r="1.65"/><circle cx="645.8" cy="224.02" r="1.65"/><circle cx="646.3" cy="224.15" r="1.65"/><circle cx="646.79" cy="224.28" r="1.65"/><circle cx="647.29" cy="224.41" r="1.65"/><circle cx="647.78" cy="224.54" r="1.65"/><circle cx="648.28" cy="224.66" r="1.65"/><circle cx="648.77" cy="224.78" r="1.65"/><circle cx="649.27" cy="224.9" r="1.65"/><circle cx="649.76" cy="225.01" r="1.65"/><circle cx="650.26" cy="225.12" r="1.65"/><circle cx="650.75" cy="225.23" r="1.65"/><circle cx="651.25" cy="225.33" r="1.65"/><circle cx="651.74" cy="225.43" r="1.65"/><circle cx="652.24" cy="225.53" r="1.65"/><circle cx="652.73" cy="225.62" r="1.65"/><circle cx="653.23" cy="225.71" r="1.65"/><circle cx="653.72" cy="225.79" r="1.65"/><circle cx="654.22" cy="225.87" r="1.65"/><circle cx="654.71" cy="225.94" r="1.65"/><circle cx="655.21" cy="226.01" r="1.65"/><circle cx="655.7" cy="226.08" r="1.65"/><circle cx="656.2" cy="226.13" r="1.65"/><circle cx="656.69" cy="226.19" r="1.65"/><circle cx="657.19" cy="226.23" r="1.65"/><circle cx="657.68" cy="226.27" r="1.65"/></g>
</g>
</svg>
<svg x="0" y="0" width="669" height="533" overflow="hidden">
<clipPath id="cac"><rect x="20.35" y="275.1" width="148.95" height="223.7"/></clipPath>
<clipPath id="cbc"><rect x="173.9" y="275.1" width="149.4" height="223.7"/></clipPath>
<g clip-path="url(#cac)">
<path d="M21,490.8 L24.76,490.59 L29.74,490.07 L34.72,489.2 L39.7,487.85 L44.68,485.9 L49.66,483.24 L54.64,479.59 L59.62,474.94 L64.6,467.25 L69.58,453.92 L74.56,432.67 L79.54,400.14 L84.52,350.3 L89.5,301.05 L94.48,300.7 L99.46,354.36 L104.44,404.83 L109.42,434.55 L114.4,452.44 L119.38,464.71 L124.36,473.94 L129.34,480.04 L134.32,483.55 L139.3,485.92 L144.28,487.68 L149.26,488.95 L154.24,489.87 L159.22,490.45 L164.2,490.91 L169.18,491.49 L169.5,491.54" fill="none" stroke="#1a1a1a" stroke-width="0.9" stroke-linejoin="round"/>
<path d="M21.9,496 L22.9,496 L23.9,495.99 L24.9,495.98 L25.9,495.97 L26.9,495.96 L27.9,495.94 L28.9,495.93 L29.9,495.91 L30.9,495.89 L31.9,495.87 L32.9,495.84 L33.9,495.82 L34.9,495.79 L35.9,495.77 L36.9,495.74 L37.9,495.71 L38.9,495.68 L39.9,495.65 L40.9,495.6 L41.9,495.55 L42.9,495.5 L43.9,495.43 L44.9,495.37 L45.9,495.29 L46.9,495.21 L47.9,495.12 L48.9,495.03 L49.9,494.93 L50.9,494.83 L51.9,494.72 L52.9,494.6 L53.9,494.47 L54.9,494.31 L55.9,494.12 L56.9,493.91 L57.9,493.68 L58.9,493.43 L59.9,493.15 L60.9,492.86 L61.9,492.55 L62.9,492.22 L63.9,491.87 L64.9,491.5 L65.9,491.07 L66.9,490.59 L67.9,490.06 L68.9,489.47 L69.9,488.83 L70.9,488.13 L71.9,487.38 L72.9,486.54 L73.9,485.57 L74.9,484.46 L75.9,483.2 L76.9,481.77 L77.9,480.16 L78.9,478.17 L79.9,475.63 L80.9,472.28 L81.9,467.38 L82.9,462.8 L83.9,457.25 L84.9,446.89 L85.9,435.16 L86.9,420.26 L87.9,394.99 L88.9,373 L89.9,360.89 L90.9,351.67 L91.9,346.3 L92.9,345.1 L93.9,346.98 L94.9,350.75 L95.9,356.1 L96.9,361.54 L97.9,368.93 L98.9,377.48 L99.9,383.52 L100.9,390.63 L101.9,397.3 L102.9,404.51 L103.9,410 L104.9,415.71 L105.9,421.47 L106.9,426.34 L107.9,432.4 L108.9,436 L109.9,439.43 L110.9,443.29 L111.9,446.29 L112.9,448.82 L113.9,451.51 L114.9,454.29 L115.9,457.03 L116.9,459.6 L117.9,462.03 L118.9,464.38 L119.9,466.61 L120.9,468.7 L121.9,470.71 L122.9,472.67 L123.9,474.54 L124.9,476.25 L125.9,477.76 L126.9,479.06 L127.9,480.26 L128.9,481.37 L129.9,482.41 L130.9,483.35 L131.9,484.21 L132.9,484.98 L133.9,485.66 L134.9,486.3 L135.9,486.88 L136.9,487.43 L137.9,487.94 L138.9,488.41 L139.9,488.85 L140.9,489.24 L141.9,489.6 L142.9,489.93 L143.9,490.24 L144.9,490.53 L145.9,490.8 L146.9,491.06 L147.9,491.31 L148.9,491.54 L149.9,491.77 L150.9,491.98 L151.9,492.2 L152.9,492.41 L153.9,492.62 L154.9,492.83 L155.9,493.05 L156.9,493.26 L157.9,493.47 L158.9,493.68 L159.9,493.89 L160.9,494.09 L161.9,494.28 L162.9,494.46 L163.9,494.63 L164.9,494.79 L165.9,494.93 L166.9,495.06 L167.9,495.17 L168.9,495.26" fill="none" stroke="#ff0000" stroke-width="1.0" stroke-linejoin="round"/>
<g fill="#ff0000"><circle cx="21.9" cy="496" r="1.8"/><circle cx="22.9" cy="496" r="1.8"/><circle cx="23.9" cy="495.99" r="1.8"/><circle cx="24.9" cy="495.98" r="1.8"/><circle cx="25.9" cy="495.97" r="1.8"/><circle cx="26.9" cy="495.96" r="1.8"/><circle cx="27.9" cy="495.94" r="1.8"/><circle cx="28.9" cy="495.93" r="1.8"/><circle cx="29.9" cy="495.91" r="1.8"/><circle cx="30.9" cy="495.89" r="1.8"/><circle cx="31.9" cy="495.87" r="1.8"/><circle cx="32.9" cy="495.84" r="1.8"/><circle cx="33.9" cy="495.82" r="1.8"/><circle cx="34.9" cy="495.79" r="1.8"/><circle cx="35.9" cy="495.77" r="1.8"/><circle cx="36.9" cy="495.74" r="1.8"/><circle cx="37.9" cy="495.71" r="1.8"/><circle cx="38.9" cy="495.68" r="1.8"/><circle cx="39.9" cy="495.65" r="1.8"/><circle cx="40.9" cy="495.6" r="1.8"/><circle cx="41.9" cy="495.55" r="1.8"/><circle cx="42.9" cy="495.5" r="1.8"/><circle cx="43.9" cy="495.43" r="1.8"/><circle cx="44.9" cy="495.37" r="1.8"/><circle cx="45.9" cy="495.29" r="1.8"/><circle cx="46.9" cy="495.21" r="1.8"/><circle cx="47.9" cy="495.12" r="1.8"/><circle cx="48.9" cy="495.03" r="1.8"/><circle cx="49.9" cy="494.93" r="1.8"/><circle cx="50.9" cy="494.83" r="1.8"/><circle cx="51.9" cy="494.72" r="1.8"/><circle cx="52.9" cy="494.6" r="1.8"/><circle cx="53.9" cy="494.47" r="1.8"/><circle cx="54.9" cy="494.31" r="1.8"/><circle cx="55.9" cy="494.12" r="1.8"/><circle cx="56.9" cy="493.91" r="1.8"/><circle cx="57.9" cy="493.68" r="1.8"/><circle cx="58.9" cy="493.43" r="1.8"/><circle cx="59.9" cy="493.15" r="1.8"/><circle cx="60.9" cy="492.86" r="1.8"/><circle cx="61.9" cy="492.55" r="1.8"/><circle cx="62.9" cy="492.22" r="1.8"/><circle cx="63.9" cy="491.87" r="1.8"/><circle cx="64.9" cy="491.5" r="1.8"/><circle cx="65.9" cy="491.07" r="1.8"/><circle cx="66.9" cy="490.59" r="1.8"/><circle cx="67.9" cy="490.06" r="1.8"/><circle cx="68.9" cy="489.47" r="1.8"/><circle cx="69.9" cy="488.83" r="1.8"/><circle cx="70.9" cy="488.13" r="1.8"/><circle cx="71.9" cy="487.38" r="1.8"/><circle cx="72.9" cy="486.54" r="1.8"/><circle cx="73.9" cy="485.57" r="1.8"/><circle cx="74.9" cy="484.46" r="1.8"/><circle cx="75.9" cy="483.2" r="1.8"/><circle cx="76.9" cy="481.77" r="1.8"/><circle cx="77.9" cy="480.16" r="1.8"/><circle cx="78.9" cy="478.17" r="1.8"/><circle cx="79.9" cy="475.63" r="1.8"/><circle cx="80.9" cy="472.28" r="1.8"/><circle cx="81.9" cy="467.38" r="1.8"/><circle cx="82.9" cy="462.8" r="1.8"/><circle cx="83.9" cy="457.25" r="1.8"/><circle cx="84.9" cy="446.89" r="1.8"/><circle cx="85.9" cy="435.16" r="1.8"/><circle cx="86.9" cy="420.26" r="1.8"/><circle cx="87.9" cy="394.99" r="1.8"/><circle cx="88.9" cy="373" r="1.8"/><circle cx="89.9" cy="360.89" r="1.8"/><circle cx="90.9" cy="351.67" r="1.8"/><circle cx="91.9" cy="346.3" r="1.8"/><circle cx="92.9" cy="345.1" r="1.8"/><circle cx="93.9" cy="346.98" r="1.8"/><circle cx="94.9" cy="350.75" r="1.8"/><circle cx="95.9" cy="356.1" r="1.8"/><circle cx="96.9" cy="361.54" r="1.8"/><circle cx="97.9" cy="368.93" r="1.8"/><circle cx="98.9" cy="377.48" r="1.8"/><circle cx="99.9" cy="383.52" r="1.8"/><circle cx="100.9" cy="390.63" r="1.8"/><circle cx="101.9" cy="397.3" r="1.8"/><circle cx="102.9" cy="404.51" r="1.8"/><circle cx="103.9" cy="410" r="1.8"/><circle cx="104.9" cy="415.71" r="1.8"/><circle cx="105.9" cy="421.47" r="1.8"/><circle cx="106.9" cy="426.34" r="1.8"/><circle cx="107.9" cy="432.4" r="1.8"/><circle cx="108.9" cy="436" r="1.8"/><circle cx="109.9" cy="439.43" r="1.8"/><circle cx="110.9" cy="443.29" r="1.8"/><circle cx="111.9" cy="446.29" r="1.8"/><circle cx="112.9" cy="448.82" r="1.8"/><circle cx="113.9" cy="451.51" r="1.8"/><circle cx="114.9" cy="454.29" r="1.8"/><circle cx="115.9" cy="457.03" r="1.8"/><circle cx="116.9" cy="459.6" r="1.8"/><circle cx="117.9" cy="462.03" r="1.8"/><circle cx="118.9" cy="464.38" r="1.8"/><circle cx="119.9" cy="466.61" r="1.8"/><circle cx="120.9" cy="468.7" r="1.8"/><circle cx="121.9" cy="470.71" r="1.8"/><circle cx="122.9" cy="472.67" r="1.8"/><circle cx="123.9" cy="474.54" r="1.8"/><circle cx="124.9" cy="476.25" r="1.8"/><circle cx="125.9" cy="477.76" r="1.8"/><circle cx="126.9" cy="479.06" r="1.8"/><circle cx="127.9" cy="480.26" r="1.8"/><circle cx="128.9" cy="481.37" r="1.8"/><circle cx="129.9" cy="482.41" r="1.8"/><circle cx="130.9" cy="483.35" r="1.8"/><circle cx="131.9" cy="484.21" r="1.8"/><circle cx="132.9" cy="484.98" r="1.8"/><circle cx="133.9" cy="485.66" r="1.8"/><circle cx="134.9" cy="486.3" r="1.8"/><circle cx="135.9" cy="486.88" r="1.8"/><circle cx="136.9" cy="487.43" r="1.8"/><circle cx="137.9" cy="487.94" r="1.8"/><circle cx="138.9" cy="488.41" r="1.8"/><circle cx="139.9" cy="488.85" r="1.8"/><circle cx="140.9" cy="489.24" r="1.8"/><circle cx="141.9" cy="489.6" r="1.8"/><circle cx="142.9" cy="489.93" r="1.8"/><circle cx="143.9" cy="490.24" r="1.8"/><circle cx="144.9" cy="490.53" r="1.8"/><circle cx="145.9" cy="490.8" r="1.8"/><circle cx="146.9" cy="491.06" r="1.8"/><circle cx="147.9" cy="491.31" r="1.8"/><circle cx="148.9" cy="491.54" r="1.8"/><circle cx="149.9" cy="491.77" r="1.8"/><circle cx="150.9" cy="491.98" r="1.8"/><circle cx="151.9" cy="492.2" r="1.8"/><circle cx="152.9" cy="492.41" r="1.8"/><circle cx="153.9" cy="492.62" r="1.8"/><circle cx="154.9" cy="492.83" r="1.8"/><circle cx="155.9" cy="493.05" r="1.8"/><circle cx="156.9" cy="493.26" r="1.8"/><circle cx="157.9" cy="493.47" r="1.8"/><circle cx="158.9" cy="493.68" r="1.8"/><circle cx="159.9" cy="493.89" r="1.8"/><circle cx="160.9" cy="494.09" r="1.8"/><circle cx="161.9" cy="494.28" r="1.8"/><circle cx="162.9" cy="494.46" r="1.8"/><circle cx="163.9" cy="494.63" r="1.8"/><circle cx="164.9" cy="494.79" r="1.8"/><circle cx="165.9" cy="494.93" r="1.8"/><circle cx="166.9" cy="495.06" r="1.8"/><circle cx="167.9" cy="495.17" r="1.8"/><circle cx="168.9" cy="495.26" r="1.8"/></g>
</g>
<g clip-path="url(#cbc)">
<path d="M174.6,475.77 L179.55,472.47 L184.5,468.88 L189.45,465.25 L194.4,460.61 L199.35,454.58 L204.3,445.34 L209.25,432.48 L214.2,414.24 L219.15,390.78 L224.1,359.85 L229.05,324.71 L234,297.04 L238.95,284.64 L243.9,291.91 L248.85,320.38 L253.8,351.89 L258.75,379.54 L263.7,405.24 L268.65,425.05 L273.6,439.56 L278.55,450.64 L283.5,459.02 L288.45,464.83 L293.4,469.14 L298.35,472.44 L303.3,474.87 L308.25,476.63 L308.5,476.7" fill="none" stroke="#1a1a1a" stroke-width="0.9" stroke-linejoin="round"/>
<path d="M172.69,494.38 L173.19,494.33 L173.68,494.28 L174.18,494.22 L174.67,494.16 L175.17,494.09 L175.66,494.03 L176.16,493.96 L176.65,493.88 L177.15,493.81 L177.64,493.74 L178.14,493.66 L178.63,493.58 L179.13,493.5 L179.62,493.42 L180.12,493.34 L180.61,493.26 L181.11,493.18 L181.6,493.1 L182.1,493.02 L182.59,492.94 L183.09,492.86 L183.58,492.78 L184.08,492.69 L184.57,492.61 L185.07,492.53 L185.56,492.44 L186.06,492.35 L186.55,492.27 L187.05,492.18 L187.54,492.09 L188.04,492 L188.53,491.9 L189.03,491.81 L189.52,491.71 L190.02,491.61 L190.51,491.51 L191.01,491.41 L191.5,491.31 L192,491.2 L192.49,491.09 L192.99,490.98 L193.48,490.87 L193.98,490.75 L194.47,490.64 L194.97,490.52 L195.46,490.4 L195.96,490.28 L196.45,490.16 L196.95,490.03 L197.44,489.91 L197.94,489.78 L198.43,489.65 L198.93,489.51 L199.42,489.38 L199.92,489.24 L200.41,489.1 L200.91,488.96 L201.4,488.81 L201.9,488.66 L202.39,488.51 L202.89,488.35 L203.38,488.19 L203.88,488.03 L204.37,487.87 L204.87,487.7 L205.36,487.52 L205.86,487.35 L206.35,487.17 L206.85,486.98 L207.34,486.8 L207.84,486.6 L208.33,486.41 L208.83,486.21 L209.32,486 L209.82,485.78 L210.31,485.55 L210.81,485.31 L211.3,485.07 L211.8,484.81 L212.29,484.55 L212.79,484.28 L213.28,484 L213.78,483.71 L214.27,483.42 L214.77,483.11 L215.26,482.8 L215.76,482.48 L216.25,482.15 L216.75,481.81 L217.24,481.47 L217.74,481.11 L218.23,480.75 L218.73,480.38 L219.22,480 L219.72,479.62 L220.21,479.23 L220.71,478.82 L221.2,478.41 L221.7,477.98 L222.19,477.53 L222.69,477.06 L223.18,476.58 L223.68,476.07 L224.17,475.54 L224.67,474.98 L225.16,474.4 L225.66,473.78 L226.15,473.13 L226.65,472.45 L227.14,471.74 L227.64,470.98 L228.13,470.16 L228.63,469.25 L229.12,468.26 L229.62,467.18 L230.11,466.01 L230.61,464.74 L231.1,463.37 L231.6,461.89 L232.09,460.31 L232.59,458.62 L233.08,456.76 L233.58,454.31 L234.07,451.41 L234.57,448.41 L235.06,445.59 L235.56,442.91 L236.05,440.18 L236.55,437.3 L237.04,434.25 L237.54,431.09 L238.03,427.73 L238.53,424.11 L239.02,420.14 L239.52,415.7 L240.01,410.87 L240.51,405.75 L241,400.45 L241.5,394.81 L241.99,388.8 L242.49,382.62 L242.98,376.2 L243.48,369.6 L243.97,363.3 L244.47,357.86 L244.96,352.63 L245.46,346.08 L245.95,337.4 L246.45,330.75 L246.94,325.28 L247.44,320.08 L247.93,315.41 L248.43,311.68 L248.92,308.46 L249.42,306.24 L249.91,304.69 L250.41,303.37 L250.91,302.45 L251.4,302.1 L251.9,302.54 L252.39,303.73 L252.89,305.45 L253.38,307.5 L253.88,309.66 L254.37,312.04 L254.87,315.12 L255.36,318.52 L255.86,322.45 L256.35,326.62 L256.85,330.4 L257.34,333.85 L257.84,337.32 L258.33,341.03 L258.83,344.86 L259.32,348.71 L259.82,352.57 L260.31,356.46 L260.81,360.42 L261.3,364.5 L261.8,368.86 L262.29,373.45 L262.79,378.01 L263.28,382.27 L263.78,386.03 L264.27,389.5 L264.77,392.76 L265.26,395.89 L265.76,398.93 L266.25,401.96 L266.75,405.02 L267.24,408.11 L267.74,411.18 L268.23,414.21 L268.73,417.14 L269.22,419.94 L269.72,422.57 L270.21,425.01 L270.71,427.31 L271.2,429.51 L271.7,431.62 L272.19,433.7 L272.69,435.78 L273.18,437.86 L273.68,439.92 L274.17,441.96 L274.67,443.96 L275.16,445.89 L275.66,447.74 L276.15,449.49 L276.65,451.16 L277.14,452.8 L277.64,454.42 L278.13,456 L278.63,457.54 L279.12,459.01 L279.62,460.42 L280.11,461.76 L280.61,463 L281.1,464.15 L281.6,465.19 L282.09,466.18 L282.59,467.14 L283.08,468.08 L283.58,468.99 L284.07,469.87 L284.57,470.72 L285.06,471.54 L285.56,472.34 L286.05,473.1 L286.55,473.83 L287.04,474.53 L287.54,475.2 L288.03,475.84 L288.53,476.44 L289.02,477.01 L289.52,477.54 L290.01,478.04 L290.51,478.5 L291,478.94 L291.5,479.37 L291.99,479.79 L292.49,480.19 L292.98,480.59 L293.48,480.97 L293.97,481.35 L294.47,481.71 L294.96,482.07 L295.46,482.41 L295.95,482.74 L296.45,483.06 L296.94,483.38 L297.44,483.68 L297.93,483.97 L298.43,484.26 L298.92,484.53 L299.42,484.79 L299.91,485.05 L300.41,485.29 L300.9,485.53 L301.4,485.76 L301.89,485.97 L302.39,486.18 L302.88,486.38 L303.38,486.57 L303.87,486.75 L304.37,486.93 L304.86,487.1 L305.36,487.27 L305.85,487.44 L306.35,487.6 L306.84,487.76 L307.34,487.92 L307.83,488.07 L308.33,488.23 L308.82,488.38 L309.32,488.52 L309.81,488.67 L310.31,488.81 L310.8,488.95 L311.3,489.08 L311.79,489.22 L312.29,489.35 L312.78,489.47 L313.28,489.59 L313.77,489.71 L314.27,489.83 L314.76,489.94 L315.26,490.05 L315.75,490.16 L316.25,490.26 L316.74,490.36 L317.24,490.46 L317.73,490.55 L318.23,490.64 L318.72,490.73 L319.22,490.81 L319.71,490.89 L320.21,490.97 L320.7,491.04 L321.2,491.11 L321.69,491.17 L322.19,491.23 L322.68,491.29 L323.18,491.34 L323.67,491.38" fill="none" stroke="#ff0000" stroke-width="0.7" stroke-linejoin="round"/>
<g fill="#ff0000"><circle cx="172.69" cy="494.38" r="1.65"/><circle cx="173.19" cy="494.33" r="1.65"/><circle cx="173.68" cy="494.28" r="1.65"/><circle cx="174.18" cy="494.22" r="1.65"/><circle cx="174.67" cy="494.16" r="1.65"/><circle cx="175.17" cy="494.09" r="1.65"/><circle cx="175.66" cy="494.03" r="1.65"/><circle cx="176.16" cy="493.96" r="1.65"/><circle cx="176.65" cy="493.88" r="1.65"/><circle cx="177.15" cy="493.81" r="1.65"/><circle cx="177.64" cy="493.74" r="1.65"/><circle cx="178.14" cy="493.66" r="1.65"/><circle cx="178.63" cy="493.58" r="1.65"/><circle cx="179.13" cy="493.5" r="1.65"/><circle cx="179.62" cy="493.42" r="1.65"/><circle cx="180.12" cy="493.34" r="1.65"/><circle cx="180.61" cy="493.26" r="1.65"/><circle cx="181.11" cy="493.18" r="1.65"/><circle cx="181.6" cy="493.1" r="1.65"/><circle cx="182.1" cy="493.02" r="1.65"/><circle cx="182.59" cy="492.94" r="1.65"/><circle cx="183.09" cy="492.86" r="1.65"/><circle cx="183.58" cy="492.78" r="1.65"/><circle cx="184.08" cy="492.69" r="1.65"/><circle cx="184.57" cy="492.61" r="1.65"/><circle cx="185.07" cy="492.53" r="1.65"/><circle cx="185.56" cy="492.44" r="1.65"/><circle cx="186.06" cy="492.35" r="1.65"/><circle cx="186.55" cy="492.27" r="1.65"/><circle cx="187.05" cy="492.18" r="1.65"/><circle cx="187.54" cy="492.09" r="1.65"/><circle cx="188.04" cy="492" r="1.65"/><circle cx="188.53" cy="491.9" r="1.65"/><circle cx="189.03" cy="491.81" r="1.65"/><circle cx="189.52" cy="491.71" r="1.65"/><circle cx="190.02" cy="491.61" r="1.65"/><circle cx="190.51" cy="491.51" r="1.65"/><circle cx="191.01" cy="491.41" r="1.65"/><circle cx="191.5" cy="491.31" r="1.65"/><circle cx="192" cy="491.2" r="1.65"/><circle cx="192.49" cy="491.09" r="1.65"/><circle cx="192.99" cy="490.98" r="1.65"/><circle cx="193.48" cy="490.87" r="1.65"/><circle cx="193.98" cy="490.75" r="1.65"/><circle cx="194.47" cy="490.64" r="1.65"/><circle cx="194.97" cy="490.52" r="1.65"/><circle cx="195.46" cy="490.4" r="1.65"/><circle cx="195.96" cy="490.28" r="1.65"/><circle cx="196.45" cy="490.16" r="1.65"/><circle cx="196.95" cy="490.03" r="1.65"/><circle cx="197.44" cy="489.91" r="1.65"/><circle cx="197.94" cy="489.78" r="1.65"/><circle cx="198.43" cy="489.65" r="1.65"/><circle cx="198.93" cy="489.51" r="1.65"/><circle cx="199.42" cy="489.38" r="1.65"/><circle cx="199.92" cy="489.24" r="1.65"/><circle cx="200.41" cy="489.1" r="1.65"/><circle cx="200.91" cy="488.96" r="1.65"/><circle cx="201.4" cy="488.81" r="1.65"/><circle cx="201.9" cy="488.66" r="1.65"/><circle cx="202.39" cy="488.51" r="1.65"/><circle cx="202.89" cy="488.35" r="1.65"/><circle cx="203.38" cy="488.19" r="1.65"/><circle cx="203.88" cy="488.03" r="1.65"/><circle cx="204.37" cy="487.87" r="1.65"/><circle cx="204.87" cy="487.7" r="1.65"/><circle cx="205.36" cy="487.52" r="1.65"/><circle cx="205.86" cy="487.35" r="1.65"/><circle cx="206.35" cy="487.17" r="1.65"/><circle cx="206.85" cy="486.98" r="1.65"/><circle cx="207.34" cy="486.8" r="1.65"/><circle cx="207.84" cy="486.6" r="1.65"/><circle cx="208.33" cy="486.41" r="1.65"/><circle cx="208.83" cy="486.21" r="1.65"/><circle cx="209.32" cy="486" r="1.65"/><circle cx="209.82" cy="485.78" r="1.65"/><circle cx="210.31" cy="485.55" r="1.65"/><circle cx="210.81" cy="485.31" r="1.65"/><circle cx="211.3" cy="485.07" r="1.65"/><circle cx="211.8" cy="484.81" r="1.65"/><circle cx="212.29" cy="484.55" r="1.65"/><circle cx="212.79" cy="484.28" r="1.65"/><circle cx="213.28" cy="484" r="1.65"/><circle cx="213.78" cy="483.71" r="1.65"/><circle cx="214.27" cy="483.42" r="1.65"/><circle cx="214.77" cy="483.11" r="1.65"/><circle cx="215.26" cy="482.8" r="1.65"/><circle cx="215.76" cy="482.48" r="1.65"/><circle cx="216.25" cy="482.15" r="1.65"/><circle cx="216.75" cy="481.81" r="1.65"/><circle cx="217.24" cy="481.47" r="1.65"/><circle cx="217.74" cy="481.11" r="1.65"/><circle cx="218.23" cy="480.75" r="1.65"/><circle cx="218.73" cy="480.38" r="1.65"/><circle cx="219.22" cy="480" r="1.65"/><circle cx="219.72" cy="479.62" r="1.65"/><circle cx="220.21" cy="479.23" r="1.65"/><circle cx="220.71" cy="478.82" r="1.65"/><circle cx="221.2" cy="478.41" r="1.65"/><circle cx="221.7" cy="477.98" r="1.65"/><circle cx="222.19" cy="477.53" r="1.65"/><circle cx="222.69" cy="477.06" r="1.65"/><circle cx="223.18" cy="476.58" r="1.65"/><circle cx="223.68" cy="476.07" r="1.65"/><circle cx="224.17" cy="475.54" r="1.65"/><circle cx="224.67" cy="474.98" r="1.65"/><circle cx="225.16" cy="474.4" r="1.65"/><circle cx="225.66" cy="473.78" r="1.65"/><circle cx="226.15" cy="473.13" r="1.65"/><circle cx="226.65" cy="472.45" r="1.65"/><circle cx="227.14" cy="471.74" r="1.65"/><circle cx="227.64" cy="470.98" r="1.65"/><circle cx="228.13" cy="470.16" r="1.65"/><circle cx="228.63" cy="469.25" r="1.65"/><circle cx="229.12" cy="468.26" r="1.65"/><circle cx="229.62" cy="467.18" r="1.65"/><circle cx="230.11" cy="466.01" r="1.65"/><circle cx="230.61" cy="464.74" r="1.65"/><circle cx="231.1" cy="463.37" r="1.65"/><circle cx="231.6" cy="461.89" r="1.65"/><circle cx="232.09" cy="460.31" r="1.65"/><circle cx="232.59" cy="458.62" r="1.65"/><circle cx="233.08" cy="456.76" r="1.65"/><circle cx="233.58" cy="454.31" r="1.65"/><circle cx="234.07" cy="451.41" r="1.65"/><circle cx="234.57" cy="448.41" r="1.65"/><circle cx="235.06" cy="445.59" r="1.65"/><circle cx="235.56" cy="442.91" r="1.65"/><circle cx="236.05" cy="440.18" r="1.65"/><circle cx="236.55" cy="437.3" r="1.65"/><circle cx="237.04" cy="434.25" r="1.65"/><circle cx="237.54" cy="431.09" r="1.65"/><circle cx="238.03" cy="427.73" r="1.65"/><circle cx="238.53" cy="424.11" r="1.65"/><circle cx="239.02" cy="420.14" r="1.65"/><circle cx="239.52" cy="415.7" r="1.65"/><circle cx="240.01" cy="410.87" r="1.65"/><circle cx="240.51" cy="405.75" r="1.65"/><circle cx="241" cy="400.45" r="1.65"/><circle cx="241.5" cy="394.81" r="1.65"/><circle cx="241.99" cy="388.8" r="1.65"/><circle cx="242.49" cy="382.62" r="1.65"/><circle cx="242.98" cy="376.2" r="1.65"/><circle cx="243.48" cy="369.6" r="1.65"/><circle cx="243.97" cy="363.3" r="1.65"/><circle cx="244.47" cy="357.86" r="1.65"/><circle cx="244.96" cy="352.63" r="1.65"/><circle cx="245.46" cy="346.08" r="1.65"/><circle cx="245.95" cy="337.4" r="1.65"/><circle cx="246.45" cy="330.75" r="1.65"/><circle cx="246.94" cy="325.28" r="1.65"/><circle cx="247.44" cy="320.08" r="1.65"/><circle cx="247.93" cy="315.41" r="1.65"/><circle cx="248.43" cy="311.68" r="1.65"/><circle cx="248.92" cy="308.46" r="1.65"/><circle cx="249.42" cy="306.24" r="1.65"/><circle cx="249.91" cy="304.69" r="1.65"/><circle cx="250.41" cy="303.37" r="1.65"/><circle cx="250.91" cy="302.45" r="1.65"/><circle cx="251.4" cy="302.1" r="1.65"/><circle cx="251.9" cy="302.54" r="1.65"/><circle cx="252.39" cy="303.73" r="1.65"/><circle cx="252.89" cy="305.45" r="1.65"/><circle cx="253.38" cy="307.5" r="1.65"/><circle cx="253.88" cy="309.66" r="1.65"/><circle cx="254.37" cy="312.04" r="1.65"/><circle cx="254.87" cy="315.12" r="1.65"/><circle cx="255.36" cy="318.52" r="1.65"/><circle cx="255.86" cy="322.45" r="1.65"/><circle cx="256.35" cy="326.62" r="1.65"/><circle cx="256.85" cy="330.4" r="1.65"/><circle cx="257.34" cy="333.85" r="1.65"/><circle cx="257.84" cy="337.32" r="1.65"/><circle cx="258.33" cy="341.03" r="1.65"/><circle cx="258.83" cy="344.86" r="1.65"/><circle cx="259.32" cy="348.71" r="1.65"/><circle cx="259.82" cy="352.57" r="1.65"/><circle cx="260.31" cy="356.46" r="1.65"/><circle cx="260.81" cy="360.42" r="1.65"/><circle cx="261.3" cy="364.5" r="1.65"/><circle cx="261.8" cy="368.86" r="1.65"/><circle cx="262.29" cy="373.45" r="1.65"/><circle cx="262.79" cy="378.01" r="1.65"/><circle cx="263.28" cy="382.27" r="1.65"/><circle cx="263.78" cy="386.03" r="1.65"/><circle cx="264.27" cy="389.5" r="1.65"/><circle cx="264.77" cy="392.76" r="1.65"/><circle cx="265.26" cy="395.89" r="1.65"/><circle cx="265.76" cy="398.93" r="1.65"/><circle cx="266.25" cy="401.96" r="1.65"/><circle cx="266.75" cy="405.02" r="1.65"/><circle cx="267.24" cy="408.11" r="1.65"/><circle cx="267.74" cy="411.18" r="1.65"/><circle cx="268.23" cy="414.21" r="1.65"/><circle cx="268.73" cy="417.14" r="1.65"/><circle cx="269.22" cy="419.94" r="1.65"/><circle cx="269.72" cy="422.57" r="1.65"/><circle cx="270.21" cy="425.01" r="1.65"/><circle cx="270.71" cy="427.31" r="1.65"/><circle cx="271.2" cy="429.51" r="1.65"/><circle cx="271.7" cy="431.62" r="1.65"/><circle cx="272.19" cy="433.7" r="1.65"/><circle cx="272.69" cy="435.78" r="1.65"/><circle cx="273.18" cy="437.86" r="1.65"/><circle cx="273.68" cy="439.92" r="1.65"/><circle cx="274.17" cy="441.96" r="1.65"/><circle cx="274.67" cy="443.96" r="1.65"/><circle cx="275.16" cy="445.89" r="1.65"/><circle cx="275.66" cy="447.74" r="1.65"/><circle cx="276.15" cy="449.49" r="1.65"/><circle cx="276.65" cy="451.16" r="1.65"/><circle cx="277.14" cy="452.8" r="1.65"/><circle cx="277.64" cy="454.42" r="1.65"/><circle cx="278.13" cy="456" r="1.65"/><circle cx="278.63" cy="457.54" r="1.65"/><circle cx="279.12" cy="459.01" r="1.65"/><circle cx="279.62" cy="460.42" r="1.65"/><circle cx="280.11" cy="461.76" r="1.65"/><circle cx="280.61" cy="463" r="1.65"/><circle cx="281.1" cy="464.15" r="1.65"/><circle cx="281.6" cy="465.19" r="1.65"/><circle cx="282.09" cy="466.18" r="1.65"/><circle cx="282.59" cy="467.14" r="1.65"/><circle cx="283.08" cy="468.08" r="1.65"/><circle cx="283.58" cy="468.99" r="1.65"/><circle cx="284.07" cy="469.87" r="1.65"/><circle cx="284.57" cy="470.72" r="1.65"/><circle cx="285.06" cy="471.54" r="1.65"/><circle cx="285.56" cy="472.34" r="1.65"/><circle cx="286.05" cy="473.1" r="1.65"/><circle cx="286.55" cy="473.83" r="1.65"/><circle cx="287.04" cy="474.53" r="1.65"/><circle cx="287.54" cy="475.2" r="1.65"/><circle cx="288.03" cy="475.84" r="1.65"/><circle cx="288.53" cy="476.44" r="1.65"/><circle cx="289.02" cy="477.01" r="1.65"/><circle cx="289.52" cy="477.54" r="1.65"/><circle cx="290.01" cy="478.04" r="1.65"/><circle cx="290.51" cy="478.5" r="1.65"/><circle cx="291" cy="478.94" r="1.65"/><circle cx="291.5" cy="479.37" r="1.65"/><circle cx="291.99" cy="479.79" r="1.65"/><circle cx="292.49" cy="480.19" r="1.65"/><circle cx="292.98" cy="480.59" r="1.65"/><circle cx="293.48" cy="480.97" r="1.65"/><circle cx="293.97" cy="481.35" r="1.65"/><circle cx="294.47" cy="481.71" r="1.65"/><circle cx="294.96" cy="482.07" r="1.65"/><circle cx="295.46" cy="482.41" r="1.65"/><circle cx="295.95" cy="482.74" r="1.65"/><circle cx="296.45" cy="483.06" r="1.65"/><circle cx="296.94" cy="483.38" r="1.65"/><circle cx="297.44" cy="483.68" r="1.65"/><circle cx="297.93" cy="483.97" r="1.65"/><circle cx="298.43" cy="484.26" r="1.65"/><circle cx="298.92" cy="484.53" r="1.65"/><circle cx="299.42" cy="484.79" r="1.65"/><circle cx="299.91" cy="485.05" r="1.65"/><circle cx="300.41" cy="485.29" r="1.65"/><circle cx="300.9" cy="485.53" r="1.65"/><circle cx="301.4" cy="485.76" r="1.65"/><circle cx="301.89" cy="485.97" r="1.65"/><circle cx="302.39" cy="486.18" r="1.65"/><circle cx="302.88" cy="486.38" r="1.65"/><circle cx="303.38" cy="486.57" r="1.65"/><circle cx="303.87" cy="486.75" r="1.65"/><circle cx="304.37" cy="486.93" r="1.65"/><circle cx="304.86" cy="487.1" r="1.65"/><circle cx="305.36" cy="487.27" r="1.65"/><circle cx="305.85" cy="487.44" r="1.65"/><circle cx="306.35" cy="487.6" r="1.65"/><circle cx="306.84" cy="487.76" r="1.65"/><circle cx="307.34" cy="487.92" r="1.65"/><circle cx="307.83" cy="488.07" r="1.65"/><circle cx="308.33" cy="488.23" r="1.65"/><circle cx="308.82" cy="488.38" r="1.65"/><circle cx="309.32" cy="488.52" r="1.65"/><circle cx="309.81" cy="488.67" r="1.65"/><circle cx="310.31" cy="488.81" r="1.65"/><circle cx="310.8" cy="488.95" r="1.65"/><circle cx="311.3" cy="489.08" r="1.65"/><circle cx="311.79" cy="489.22" r="1.65"/><circle cx="312.29" cy="489.35" r="1.65"/><circle cx="312.78" cy="489.47" r="1.65"/><circle cx="313.28" cy="489.59" r="1.65"/><circle cx="313.77" cy="489.71" r="1.65"/><circle cx="314.27" cy="489.83" r="1.65"/><circle cx="314.76" cy="489.94" r="1.65"/><circle cx="315.26" cy="490.05" r="1.65"/><circle cx="315.75" cy="490.16" r="1.65"/><circle cx="316.25" cy="490.26" r="1.65"/><circle cx="316.74" cy="490.36" r="1.65"/><circle cx="317.24" cy="490.46" r="1.65"/><circle cx="317.73" cy="490.55" r="1.65"/><circle cx="318.23" cy="490.64" r="1.65"/><circle cx="318.72" cy="490.73" r="1.65"/><circle cx="319.22" cy="490.81" r="1.65"/><circle cx="319.71" cy="490.89" r="1.65"/><circle cx="320.21" cy="490.97" r="1.65"/><circle cx="320.7" cy="491.04" r="1.65"/><circle cx="321.2" cy="491.11" r="1.65"/><circle cx="321.69" cy="491.17" r="1.65"/><circle cx="322.19" cy="491.23" r="1.65"/><circle cx="322.68" cy="491.29" r="1.65"/><circle cx="323.18" cy="491.34" r="1.65"/><circle cx="323.67" cy="491.38" r="1.65"/></g>
</g>
</svg>
<svg x="0" y="0" width="669" height="533" overflow="hidden">
<clipPath id="cad"><rect x="353.75" y="275.1" width="148.95" height="223.7"/></clipPath>
<clipPath id="cbd"><rect x="507.3" y="275.1" width="149.4" height="223.7"/></clipPath>
<g clip-path="url(#cad)">
<path d="M354,489.6 L357.86,489.97 L362.84,489.98 L367.82,489.28 L372.8,487.68 L377.78,485.3 L382.76,482.19 L387.74,478 L392.72,472.76 L397.7,464.87 L402.68,451.95 L407.66,430.84 L412.64,396.76 L417.62,344.42 L422.6,293.6 L427.58,292.9 L432.56,337.89 L437.54,393.46 L442.52,429.55 L447.5,450.14 L452.48,462.82 L457.46,471.69 L462.44,477.67 L467.42,481.84 L472.4,484.81 L477.38,486.94 L482.36,488.49 L487.34,489.6 L492.32,490.31 L497.3,490.84 L502.28,491.43 L503,491.53" fill="none" stroke="#1a1a1a" stroke-width="0.9" stroke-linejoin="round"/>
<path d="M354.5,494.8 L355.5,494.8 L356.5,494.79 L357.5,494.78 L358.5,494.77 L359.5,494.75 L360.5,494.73 L361.5,494.71 L362.5,494.69 L363.5,494.66 L364.5,494.63 L365.5,494.6 L366.5,494.57 L367.5,494.53 L368.5,494.5 L369.5,494.46 L370.5,494.42 L371.5,494.37 L372.5,494.3 L373.5,494.22 L374.5,494.11 L375.5,493.99 L376.5,493.86 L377.5,493.71 L378.5,493.56 L379.5,493.39 L380.5,493.22 L381.5,493.05 L382.5,492.85 L383.5,492.63 L384.5,492.38 L385.5,492.12 L386.5,491.83 L387.5,491.52 L388.5,491.2 L389.5,490.86 L390.5,490.5 L391.5,490.12 L392.5,489.7 L393.5,489.25 L394.5,488.76 L395.5,488.23 L396.5,487.65 L397.5,487.03 L398.5,486.34 L399.5,485.55 L400.5,484.65 L401.5,483.68 L402.5,482.63 L403.5,481.51 L404.5,480.26 L405.5,478.78 L406.5,476.91 L407.5,474.44 L408.5,471.29 L409.5,467.3 L410.5,463.59 L411.5,456.43 L412.5,447.14 L413.5,438.08 L414.5,426.59 L415.5,401.35 L416.5,380.28 L417.5,356 L418.5,337.47 L419.5,323.71 L420.5,320.81 L421.5,319.9 L422.5,321.38 L423.5,325.17 L424.5,330.04 L425.5,336.13 L426.5,343.19 L427.5,352.42 L428.5,359.69 L429.5,366.25 L430.5,372.8 L431.5,381.44 L432.5,387.96 L433.5,394.52 L434.5,401.02 L435.5,406.77 L436.5,411.8 L437.5,416.71 L438.5,421.51 L439.5,426.21 L440.5,430.81 L441.5,435.2 L442.5,439.39 L443.5,443.43 L444.5,447.22 L445.5,450.81 L446.5,454.31 L447.5,457.39 L448.5,459.77 L449.5,461.71 L450.5,463.39 L451.5,464.91 L452.5,466.35 L453.5,467.79 L454.5,469.21 L455.5,470.59 L456.5,471.91 L457.5,473.17 L458.5,474.37 L459.5,475.5 L460.5,476.58 L461.5,477.65 L462.5,478.68 L463.5,479.68 L464.5,480.65 L465.5,481.56 L466.5,482.42 L467.5,483.21 L468.5,483.93 L469.5,484.59 L470.5,485.21 L471.5,485.8 L472.5,486.37 L473.5,486.9 L474.5,487.4 L475.5,487.86 L476.5,488.29 L477.5,488.68 L478.5,489.03 L479.5,489.36 L480.5,489.67 L481.5,489.96 L482.5,490.24 L483.5,490.5 L484.5,490.74 L485.5,490.98 L486.5,491.2 L487.5,491.42 L488.5,491.62 L489.5,491.82 L490.5,492.02 L491.5,492.21 L492.5,492.4 L493.5,492.58 L494.5,492.76 L495.5,492.93 L496.5,493.1 L497.5,493.25 L498.5,493.4 L499.5,493.53 L500.5,493.66 L501.5,493.77 L502.5,493.86" fill="none" stroke="#ff0000" stroke-width="1.0" stroke-linejoin="round"/>
<g fill="#ff0000"><circle cx="354.5" cy="494.8" r="1.8"/><circle cx="355.5" cy="494.8" r="1.8"/><circle cx="356.5" cy="494.79" r="1.8"/><circle cx="357.5" cy="494.78" r="1.8"/><circle cx="358.5" cy="494.77" r="1.8"/><circle cx="359.5" cy="494.75" r="1.8"/><circle cx="360.5" cy="494.73" r="1.8"/><circle cx="361.5" cy="494.71" r="1.8"/><circle cx="362.5" cy="494.69" r="1.8"/><circle cx="363.5" cy="494.66" r="1.8"/><circle cx="364.5" cy="494.63" r="1.8"/><circle cx="365.5" cy="494.6" r="1.8"/><circle cx="366.5" cy="494.57" r="1.8"/><circle cx="367.5" cy="494.53" r="1.8"/><circle cx="368.5" cy="494.5" r="1.8"/><circle cx="369.5" cy="494.46" r="1.8"/><circle cx="370.5" cy="494.42" r="1.8"/><circle cx="371.5" cy="494.37" r="1.8"/><circle cx="372.5" cy="494.3" r="1.8"/><circle cx="373.5" cy="494.22" r="1.8"/><circle cx="374.5" cy="494.11" r="1.8"/><circle cx="375.5" cy="493.99" r="1.8"/><circle cx="376.5" cy="493.86" r="1.8"/><circle cx="377.5" cy="493.71" r="1.8"/><circle cx="378.5" cy="493.56" r="1.8"/><circle cx="379.5" cy="493.39" r="1.8"/><circle cx="380.5" cy="493.22" r="1.8"/><circle cx="381.5" cy="493.05" r="1.8"/><circle cx="382.5" cy="492.85" r="1.8"/><circle cx="383.5" cy="492.63" r="1.8"/><circle cx="384.5" cy="492.38" r="1.8"/><circle cx="385.5" cy="492.12" r="1.8"/><circle cx="386.5" cy="491.83" r="1.8"/><circle cx="387.5" cy="491.52" r="1.8"/><circle cx="388.5" cy="491.2" r="1.8"/><circle cx="389.5" cy="490.86" r="1.8"/><circle cx="390.5" cy="490.5" r="1.8"/><circle cx="391.5" cy="490.12" r="1.8"/><circle cx="392.5" cy="489.7" r="1.8"/><circle cx="393.5" cy="489.25" r="1.8"/><circle cx="394.5" cy="488.76" r="1.8"/><circle cx="395.5" cy="488.23" r="1.8"/><circle cx="396.5" cy="487.65" r="1.8"/><circle cx="397.5" cy="487.03" r="1.8"/><circle cx="398.5" cy="486.34" r="1.8"/><circle cx="399.5" cy="485.55" r="1.8"/><circle cx="400.5" cy="484.65" r="1.8"/><circle cx="401.5" cy="483.68" r="1.8"/><circle cx="402.5" cy="482.63" r="1.8"/><circle cx="403.5" cy="481.51" r="1.8"/><circle cx="404.5" cy="480.26" r="1.8"/><circle cx="405.5" cy="478.78" r="1.8"/><circle cx="406.5" cy="476.91" r="1.8"/><circle cx="407.5" cy="474.44" r="1.8"/><circle cx="408.5" cy="471.29" r="1.8"/><circle cx="409.5" cy="467.3" r="1.8"/><circle cx="410.5" cy="463.59" r="1.8"/><circle cx="411.5" cy="456.43" r="1.8"/><circle cx="412.5" cy="447.14" r="1.8"/><circle cx="413.5" cy="438.08" r="1.8"/><circle cx="414.5" cy="426.59" r="1.8"/><circle cx="415.5" cy="401.35" r="1.8"/><circle cx="416.5" cy="380.28" r="1.8"/><circle cx="417.5" cy="356" r="1.8"/><circle cx="418.5" cy="337.47" r="1.8"/><circle cx="419.5" cy="323.71" r="1.8"/><circle cx="420.5" cy="320.81" r="1.8"/><circle cx="421.5" cy="319.9" r="1.8"/><circle cx="422.5" cy="321.38" r="1.8"/><circle cx="423.5" cy="325.17" r="1.8"/><circle cx="424.5" cy="330.04" r="1.8"/><circle cx="425.5" cy="336.13" r="1.8"/><circle cx="426.5" cy="343.19" r="1.8"/><circle cx="427.5" cy="352.42" r="1.8"/><circle cx="428.5" cy="359.69" r="1.8"/><circle cx="429.5" cy="366.25" r="1.8"/><circle cx="430.5" cy="372.8" r="1.8"/><circle cx="431.5" cy="381.44" r="1.8"/><circle cx="432.5" cy="387.96" r="1.8"/><circle cx="433.5" cy="394.52" r="1.8"/><circle cx="434.5" cy="401.02" r="1.8"/><circle cx="435.5" cy="406.77" r="1.8"/><circle cx="436.5" cy="411.8" r="1.8"/><circle cx="437.5" cy="416.71" r="1.8"/><circle cx="438.5" cy="421.51" r="1.8"/><circle cx="439.5" cy="426.21" r="1.8"/><circle cx="440.5" cy="430.81" r="1.8"/><circle cx="441.5" cy="435.2" r="1.8"/><circle cx="442.5" cy="439.39" r="1.8"/><circle cx="443.5" cy="443.43" r="1.8"/><circle cx="444.5" cy="447.22" r="1.8"/><circle cx="445.5" cy="450.81" r="1.8"/><circle cx="446.5" cy="454.31" r="1.8"/><circle cx="447.5" cy="457.39" r="1.8"/><circle cx="448.5" cy="459.77" r="1.8"/><circle cx="449.5" cy="461.71" r="1.8"/><circle cx="450.5" cy="463.39" r="1.8"/><circle cx="451.5" cy="464.91" r="1.8"/><circle cx="452.5" cy="466.35" r="1.8"/><circle cx="453.5" cy="467.79" r="1.8"/><circle cx="454.5" cy="469.21" r="1.8"/><circle cx="455.5" cy="470.59" r="1.8"/><circle cx="456.5" cy="471.91" r="1.8"/><circle cx="457.5" cy="473.17" r="1.8"/><circle cx="458.5" cy="474.37" r="1.8"/><circle cx="459.5" cy="475.5" r="1.8"/><circle cx="460.5" cy="476.58" r="1.8"/><circle cx="461.5" cy="477.65" r="1.8"/><circle cx="462.5" cy="478.68" r="1.8"/><circle cx="463.5" cy="479.68" r="1.8"/><circle cx="464.5" cy="480.65" r="1.8"/><circle cx="465.5" cy="481.56" r="1.8"/><circle cx="466.5" cy="482.42" r="1.8"/><circle cx="467.5" cy="483.21" r="1.8"/><circle cx="468.5" cy="483.93" r="1.8"/><circle cx="469.5" cy="484.59" r="1.8"/><circle cx="470.5" cy="485.21" r="1.8"/><circle cx="471.5" cy="485.8" r="1.8"/><circle cx="472.5" cy="486.37" r="1.8"/><circle cx="473.5" cy="486.9" r="1.8"/><circle cx="474.5" cy="487.4" r="1.8"/><circle cx="475.5" cy="487.86" r="1.8"/><circle cx="476.5" cy="488.29" r="1.8"/><circle cx="477.5" cy="488.68" r="1.8"/><circle cx="478.5" cy="489.03" r="1.8"/><circle cx="479.5" cy="489.36" r="1.8"/><circle cx="480.5" cy="489.67" r="1.8"/><circle cx="481.5" cy="489.96" r="1.8"/><circle cx="482.5" cy="490.24" r="1.8"/><circle cx="483.5" cy="490.5" r="1.8"/><circle cx="484.5" cy="490.74" r="1.8"/><circle cx="485.5" cy="490.98" r="1.8"/><circle cx="486.5" cy="491.2" r="1.8"/><circle cx="487.5" cy="491.42" r="1.8"/><circle cx="488.5" cy="491.62" r="1.8"/><circle cx="489.5" cy="491.82" r="1.8"/><circle cx="490.5" cy="492.02" r="1.8"/><circle cx="491.5" cy="492.21" r="1.8"/><circle cx="492.5" cy="492.4" r="1.8"/><circle cx="493.5" cy="492.58" r="1.8"/><circle cx="494.5" cy="492.76" r="1.8"/><circle cx="495.5" cy="492.93" r="1.8"/><circle cx="496.5" cy="493.1" r="1.8"/><circle cx="497.5" cy="493.25" r="1.8"/><circle cx="498.5" cy="493.4" r="1.8"/><circle cx="499.5" cy="493.53" r="1.8"/><circle cx="500.5" cy="493.66" r="1.8"/><circle cx="501.5" cy="493.77" r="1.8"/><circle cx="502.5" cy="493.86" r="1.8"/></g>
</g>
<g clip-path="url(#cbd)">
<path d="M508,476.04 L512.95,472.46 L517.9,468.82 L522.85,464.87 L527.8,460.34 L532.75,455.15 L537.7,448.03 L542.65,436.22 L547.6,417.81 L552.55,394.9 L557.5,367.25 L562.45,335.46 L567.4,308.14 L572.35,296.8 L577.3,304.57 L582.25,329 L587.2,359.47 L592.15,387.71 L597.1,410.14 L602.05,428.23 L607,441.57 L611.95,451.53 L616.9,458.9 L621.85,464.12 L626.8,468 L631.75,471.27 L636.7,474.62 L641.65,477.91 L641.9,478.08" fill="none" stroke="#1a1a1a" stroke-width="0.9" stroke-linejoin="round"/>
<path d="M505.97,493.77 L506.46,493.73 L506.96,493.69 L507.45,493.64 L507.95,493.58 L508.44,493.52 L508.94,493.44 L509.43,493.36 L509.93,493.27 L510.42,493.17 L510.92,493.06 L511.41,492.96 L511.91,492.84 L512.4,492.72 L512.9,492.6 L513.39,492.48 L513.89,492.36 L514.38,492.24 L514.88,492.11 L515.37,491.99 L515.87,491.88 L516.36,491.76 L516.86,491.65 L517.35,491.54 L517.85,491.43 L518.34,491.31 L518.84,491.2 L519.33,491.09 L519.83,490.98 L520.32,490.87 L520.82,490.75 L521.31,490.64 L521.81,490.52 L522.3,490.41 L522.8,490.29 L523.29,490.18 L523.79,490.06 L524.28,489.94 L524.78,489.81 L525.27,489.69 L525.77,489.56 L526.26,489.44 L526.76,489.31 L527.25,489.17 L527.75,489.04 L528.24,488.9 L528.74,488.76 L529.23,488.62 L529.73,488.47 L530.22,488.32 L530.72,488.17 L531.21,488.02 L531.71,487.86 L532.2,487.7 L532.7,487.54 L533.19,487.38 L533.69,487.21 L534.18,487.05 L534.68,486.87 L535.17,486.7 L535.67,486.52 L536.16,486.34 L536.66,486.15 L537.15,485.96 L537.65,485.76 L538.14,485.56 L538.64,485.35 L539.13,485.14 L539.63,484.93 L540.12,484.71 L540.62,484.48 L541.11,484.25 L541.61,484.01 L542.1,483.76 L542.6,483.51 L543.09,483.25 L543.59,482.98 L544.08,482.7 L544.58,482.4 L545.07,482.1 L545.57,481.78 L546.06,481.44 L546.56,481.1 L547.05,480.74 L547.55,480.37 L548.04,479.98 L548.54,479.58 L549.03,479.17 L549.53,478.74 L550.02,478.3 L550.52,477.84 L551.01,477.38 L551.51,476.89 L552,476.39 L552.5,475.86 L552.99,475.3 L553.49,474.72 L553.98,474.1 L554.48,473.46 L554.97,472.79 L555.47,472.08 L555.96,471.35 L556.46,470.58 L556.95,469.77 L557.45,468.92 L557.94,468.04 L558.44,467.12 L558.93,466.13 L559.43,465.03 L559.92,463.83 L560.42,462.54 L560.91,461.17 L561.41,459.71 L561.9,458.18 L562.4,456.57 L562.89,454.87 L563.39,452.97 L563.88,450.91 L564.38,448.69 L564.87,446.36 L565.37,443.95 L565.86,441.45 L566.36,438.84 L566.85,436.07 L567.35,433.14 L567.84,429.99 L568.34,426.61 L568.83,422.76 L569.33,418.55 L569.82,414.17 L570.32,409.83 L570.81,405.64 L571.31,401.48 L571.8,397.16 L572.3,392.51 L572.79,387.39 L573.29,381.75 L573.78,375.47 L574.28,368.01 L574.77,358.88 L575.27,351.1 L575.76,345.65 L576.26,339.51 L576.75,332.88 L577.25,326.47 L577.75,320.41 L578.24,315.47 L578.74,310.93 L579.23,305.24 L579.73,299.79 L580.22,297.83 L580.72,296.3 L581.21,295.16 L581.71,294.45 L582.2,294.2 L582.7,294.57 L583.19,295.55 L583.69,296.99 L584.18,298.71 L584.68,300.55 L585.17,302.35 L585.67,304.24 L586.16,306.46 L586.66,309.12 L587.15,312.7 L587.65,317.3 L588.14,321.83 L588.64,326.41 L589.13,330.96 L589.63,335.36 L590.12,339.01 L590.62,342 L591.11,344.86 L591.61,347.78 L592.1,350.82 L592.6,354.49 L593.09,358.7 L593.59,363.18 L594.08,367.62 L594.58,371.83 L595.07,376.07 L595.57,380.27 L596.06,384.25 L596.56,387.88 L597.05,391.19 L597.55,394.29 L598.04,397.24 L598.54,400.08 L599.03,402.87 L599.53,405.64 L600.02,408.45 L600.52,411.27 L601.01,414.06 L601.51,416.79 L602,419.4 L602.5,421.85 L602.99,424.11 L603.49,426.15 L603.98,428.01 L604.48,429.76 L604.97,431.4 L605.47,432.98 L605.96,434.52 L606.46,436.06 L606.95,437.63 L607.45,439.25 L607.94,440.94 L608.44,442.68 L608.93,444.43 L609.43,446.18 L609.92,447.89 L610.42,449.54 L610.91,451.11 L611.41,452.56 L611.9,453.9 L612.4,455.2 L612.89,456.47 L613.39,457.7 L613.88,458.89 L614.38,460.03 L614.87,461.13 L615.37,462.19 L615.86,463.19 L616.36,464.14 L616.85,465.04 L617.35,465.87 L617.84,466.67 L618.34,467.44 L618.83,468.19 L619.33,468.91 L619.82,469.6 L620.32,470.28 L620.81,470.92 L621.31,471.55 L621.8,472.16 L622.3,472.74 L622.79,473.31 L623.29,473.85 L623.78,474.38 L624.28,474.89 L624.77,475.38 L625.27,475.85 L625.76,476.32 L626.26,476.78 L626.75,477.23 L627.25,477.67 L627.74,478.11 L628.24,478.53 L628.73,478.95 L629.23,479.35 L629.72,479.75 L630.22,480.14 L630.71,480.52 L631.21,480.89 L631.7,481.25 L632.2,481.59 L632.69,481.93 L633.19,482.26 L633.68,482.57 L634.18,482.88 L634.67,483.17 L635.17,483.45 L635.66,483.72 L636.16,483.98 L636.65,484.22 L637.15,484.47 L637.64,484.7 L638.14,484.93 L638.63,485.15 L639.13,485.37 L639.62,485.58 L640.12,485.78 L640.61,485.98 L641.11,486.18 L641.6,486.37 L642.1,486.55 L642.59,486.73 L643.09,486.91 L643.58,487.08 L644.08,487.25 L644.57,487.41 L645.07,487.57 L645.56,487.72 L646.06,487.88 L646.55,488.02 L647.05,488.17 L647.54,488.31 L648.04,488.45 L648.53,488.59 L649.03,488.72 L649.52,488.85 L650.02,488.98 L650.51,489.11 L651.01,489.23 L651.5,489.35 L652,489.47 L652.49,489.59 L652.99,489.7 L653.48,489.8 L653.98,489.91 L654.47,490.01 L654.97,490.11 L655.46,490.2 L655.96,490.29 L656.45,490.37 L656.95,490.45 L657.44,490.53 L657.94,490.59" fill="none" stroke="#ff0000" stroke-width="0.7" stroke-linejoin="round"/>
<g fill="#ff0000"><circle cx="505.97" cy="493.77" r="1.65"/><circle cx="506.46" cy="493.73" r="1.65"/><circle cx="506.96" cy="493.69" r="1.65"/><circle cx="507.45" cy="493.64" r="1.65"/><circle cx="507.95" cy="493.58" r="1.65"/><circle cx="508.44" cy="493.52" r="1.65"/><circle cx="508.94" cy="493.44" r="1.65"/><circle cx="509.43" cy="493.36" r="1.65"/><circle cx="509.93" cy="493.27" r="1.65"/><circle cx="510.42" cy="493.17" r="1.65"/><circle cx="510.92" cy="493.06" r="1.65"/><circle cx="511.41" cy="492.96" r="1.65"/><circle cx="511.91" cy="492.84" r="1.65"/><circle cx="512.4" cy="492.72" r="1.65"/><circle cx="512.9" cy="492.6" r="1.65"/><circle cx="513.39" cy="492.48" r="1.65"/><circle cx="513.89" cy="492.36" r="1.65"/><circle cx="514.38" cy="492.24" r="1.65"/><circle cx="514.88" cy="492.11" r="1.65"/><circle cx="515.37" cy="491.99" r="1.65"/><circle cx="515.87" cy="491.88" r="1.65"/><circle cx="516.36" cy="491.76" r="1.65"/><circle cx="516.86" cy="491.65" r="1.65"/><circle cx="517.35" cy="491.54" r="1.65"/><circle cx="517.85" cy="491.43" r="1.65"/><circle cx="518.34" cy="491.31" r="1.65"/><circle cx="518.84" cy="491.2" r="1.65"/><circle cx="519.33" cy="491.09" r="1.65"/><circle cx="519.83" cy="490.98" r="1.65"/><circle cx="520.32" cy="490.87" r="1.65"/><circle cx="520.82" cy="490.75" r="1.65"/><circle cx="521.31" cy="490.64" r="1.65"/><circle cx="521.81" cy="490.52" r="1.65"/><circle cx="522.3" cy="490.41" r="1.65"/><circle cx="522.8" cy="490.29" r="1.65"/><circle cx="523.29" cy="490.18" r="1.65"/><circle cx="523.79" cy="490.06" r="1.65"/><circle cx="524.28" cy="489.94" r="1.65"/><circle cx="524.78" cy="489.81" r="1.65"/><circle cx="525.27" cy="489.69" r="1.65"/><circle cx="525.77" cy="489.56" r="1.65"/><circle cx="526.26" cy="489.44" r="1.65"/><circle cx="526.76" cy="489.31" r="1.65"/><circle cx="527.25" cy="489.17" r="1.65"/><circle cx="527.75" cy="489.04" r="1.65"/><circle cx="528.24" cy="488.9" r="1.65"/><circle cx="528.74" cy="488.76" r="1.65"/><circle cx="529.23" cy="488.62" r="1.65"/><circle cx="529.73" cy="488.47" r="1.65"/><circle cx="530.22" cy="488.32" r="1.65"/><circle cx="530.72" cy="488.17" r="1.65"/><circle cx="531.21" cy="488.02" r="1.65"/><circle cx="531.71" cy="487.86" r="1.65"/><circle cx="532.2" cy="487.7" r="1.65"/><circle cx="532.7" cy="487.54" r="1.65"/><circle cx="533.19" cy="487.38" r="1.65"/><circle cx="533.69" cy="487.21" r="1.65"/><circle cx="534.18" cy="487.05" r="1.65"/><circle cx="534.68" cy="486.87" r="1.65"/><circle cx="535.17" cy="486.7" r="1.65"/><circle cx="535.67" cy="486.52" r="1.65"/><circle cx="536.16" cy="486.34" r="1.65"/><circle cx="536.66" cy="486.15" r="1.65"/><circle cx="537.15" cy="485.96" r="1.65"/><circle cx="537.65" cy="485.76" r="1.65"/><circle cx="538.14" cy="485.56" r="1.65"/><circle cx="538.64" cy="485.35" r="1.65"/><circle cx="539.13" cy="485.14" r="1.65"/><circle cx="539.63" cy="484.93" r="1.65"/><circle cx="540.12" cy="484.71" r="1.65"/><circle cx="540.62" cy="484.48" r="1.65"/><circle cx="541.11" cy="484.25" r="1.65"/><circle cx="541.61" cy="484.01" r="1.65"/><circle cx="542.1" cy="483.76" r="1.65"/><circle cx="542.6" cy="483.51" r="1.65"/><circle cx="543.09" cy="483.25" r="1.65"/><circle cx="543.59" cy="482.98" r="1.65"/><circle cx="544.08" cy="482.7" r="1.65"/><circle cx="544.58" cy="482.4" r="1.65"/><circle cx="545.07" cy="482.1" r="1.65"/><circle cx="545.57" cy="481.78" r="1.65"/><circle cx="546.06" cy="481.44" r="1.65"/><circle cx="546.56" cy="481.1" r="1.65"/><circle cx="547.05" cy="480.74" r="1.65"/><circle cx="547.55" cy="480.37" r="1.65"/><circle cx="548.04" cy="479.98" r="1.65"/><circle cx="548.54" cy="479.58" r="1.65"/><circle cx="549.03" cy="479.17" r="1.65"/><circle cx="549.53" cy="478.74" r="1.65"/><circle cx="550.02" cy="478.3" r="1.65"/><circle cx="550.52" cy="477.84" r="1.65"/><circle cx="551.01" cy="477.38" r="1.65"/><circle cx="551.51" cy="476.89" r="1.65"/><circle cx="552" cy="476.39" r="1.65"/><circle cx="552.5" cy="475.86" r="1.65"/><circle cx="552.99" cy="475.3" r="1.65"/><circle cx="553.49" cy="474.72" r="1.65"/><circle cx="553.98" cy="474.1" r="1.65"/><circle cx="554.48" cy="473.46" r="1.65"/><circle cx="554.97" cy="472.79" r="1.65"/><circle cx="555.47" cy="472.08" r="1.65"/><circle cx="555.96" cy="471.35" r="1.65"/><circle cx="556.46" cy="470.58" r="1.65"/><circle cx="556.95" cy="469.77" r="1.65"/><circle cx="557.45" cy="468.92" r="1.65"/><circle cx="557.94" cy="468.04" r="1.65"/><circle cx="558.44" cy="467.12" r="1.65"/><circle cx="558.93" cy="466.13" r="1.65"/><circle cx="559.43" cy="465.03" r="1.65"/><circle cx="559.92" cy="463.83" r="1.65"/><circle cx="560.42" cy="462.54" r="1.65"/><circle cx="560.91" cy="461.17" r="1.65"/><circle cx="561.41" cy="459.71" r="1.65"/><circle cx="561.9" cy="458.18" r="1.65"/><circle cx="562.4" cy="456.57" r="1.65"/><circle cx="562.89" cy="454.87" r="1.65"/><circle cx="563.39" cy="452.97" r="1.65"/><circle cx="563.88" cy="450.91" r="1.65"/><circle cx="564.38" cy="448.69" r="1.65"/><circle cx="564.87" cy="446.36" r="1.65"/><circle cx="565.37" cy="443.95" r="1.65"/><circle cx="565.86" cy="441.45" r="1.65"/><circle cx="566.36" cy="438.84" r="1.65"/><circle cx="566.85" cy="436.07" r="1.65"/><circle cx="567.35" cy="433.14" r="1.65"/><circle cx="567.84" cy="429.99" r="1.65"/><circle cx="568.34" cy="426.61" r="1.65"/><circle cx="568.83" cy="422.76" r="1.65"/><circle cx="569.33" cy="418.55" r="1.65"/><circle cx="569.82" cy="414.17" r="1.65"/><circle cx="570.32" cy="409.83" r="1.65"/><circle cx="570.81" cy="405.64" r="1.65"/><circle cx="571.31" cy="401.48" r="1.65"/><circle cx="571.8" cy="397.16" r="1.65"/><circle cx="572.3" cy="392.51" r="1.65"/><circle cx="572.79" cy="387.39" r="1.65"/><circle cx="573.29" cy="381.75" r="1.65"/><circle cx="573.78" cy="375.47" r="1.65"/><circle cx="574.28" cy="368.01" r="1.65"/><circle cx="574.77" cy="358.88" r="1.65"/><circle cx="575.27" cy="351.1" r="1.65"/><circle cx="575.76" cy="345.65" r="1.65"/><circle cx="576.26" cy="339.51" r="1.65"/><circle cx="576.75" cy="332.88" r="1.65"/><circle cx="577.25" cy="326.47" r="1.65"/><circle cx="577.75" cy="320.41" r="1.65"/><circle cx="578.24" cy="315.47" r="1.65"/><circle cx="578.74" cy="310.93" r="1.65"/><circle cx="579.23" cy="305.24" r="1.65"/><circle cx="579.73" cy="299.79" r="1.65"/><circle cx="580.22" cy="297.83" r="1.65"/><circle cx="580.72" cy="296.3" r="1.65"/><circle cx="581.21" cy="295.16" r="1.65"/><circle cx="581.71" cy="294.45" r="1.65"/><circle cx="582.2" cy="294.2" r="1.65"/><circle cx="582.7" cy="294.57" r="1.65"/><circle cx="583.19" cy="295.55" r="1.65"/><circle cx="583.69" cy="296.99" r="1.65"/><circle cx="584.18" cy="298.71" r="1.65"/><circle cx="584.68" cy="300.55" r="1.65"/><circle cx="585.17" cy="302.35" r="1.65"/><circle cx="585.67" cy="304.24" r="1.65"/><circle cx="586.16" cy="306.46" r="1.65"/><circle cx="586.66" cy="309.12" r="1.65"/><circle cx="587.15" cy="312.7" r="1.65"/><circle cx="587.65" cy="317.3" r="1.65"/><circle cx="588.14" cy="321.83" r="1.65"/><circle cx="588.64" cy="326.41" r="1.65"/><circle cx="589.13" cy="330.96" r="1.65"/><circle cx="589.63" cy="335.36" r="1.65"/><circle cx="590.12" cy="339.01" r="1.65"/><circle cx="590.62" cy="342" r="1.65"/><circle cx="591.11" cy="344.86" r="1.65"/><circle cx="591.61" cy="347.78" r="1.65"/><circle cx="592.1" cy="350.82" r="1.65"/><circle cx="592.6" cy="354.49" r="1.65"/><circle cx="593.09" cy="358.7" r="1.65"/><circle cx="593.59" cy="363.18" r="1.65"/><circle cx="594.08" cy="367.62" r="1.65"/><circle cx="594.58" cy="371.83" r="1.65"/><circle cx="595.07" cy="376.07" r="1.65"/><circle cx="595.57" cy="380.27" r="1.65"/><circle cx="596.06" cy="384.25" r="1.65"/><circle cx="596.56" cy="387.88" r="1.65"/><circle cx="597.05" cy="391.19" r="1.65"/><circle cx="597.55" cy="394.29" r="1.65"/><circle cx="598.04" cy="397.24" r="1.65"/><circle cx="598.54" cy="400.08" r="1.65"/><circle cx="599.03" cy="402.87" r="1.65"/><circle cx="599.53" cy="405.64" r="1.65"/><circle cx="600.02" cy="408.45" r="1.65"/><circle cx="600.52" cy="411.27" r="1.65"/><circle cx="601.01" cy="414.06" r="1.65"/><circle cx="601.51" cy="416.79" r="1.65"/><circle cx="602" cy="419.4" r="1.65"/><circle cx="602.5" cy="421.85" r="1.65"/><circle cx="602.99" cy="424.11" r="1.65"/><circle cx="603.49" cy="426.15" r="1.65"/><circle cx="603.98" cy="428.01" r="1.65"/><circle cx="604.48" cy="429.76" r="1.65"/><circle cx="604.97" cy="431.4" r="1.65"/><circle cx="605.47" cy="432.98" r="1.65"/><circle cx="605.96" cy="434.52" r="1.65"/><circle cx="606.46" cy="436.06" r="1.65"/><circle cx="606.95" cy="437.63" r="1.65"/><circle cx="607.45" cy="439.25" r="1.65"/><circle cx="607.94" cy="440.94" r="1.65"/><circle cx="608.44" cy="442.68" r="1.65"/><circle cx="608.93" cy="444.43" r="1.65"/><circle cx="609.43" cy="446.18" r="1.65"/><circle cx="609.92" cy="447.89" r="1.65"/><circle cx="610.42" cy="449.54" r="1.65"/><circle cx="610.91" cy="451.11" r="1.65"/><circle cx="611.41" cy="452.56" r="1.65"/><circle cx="611.9" cy="453.9" r="1.65"/><circle cx="612.4" cy="455.2" r="1.65"/><circle cx="612.89" cy="456.47" r="1.65"/><circle cx="613.39" cy="457.7" r="1.65"/><circle cx="613.88" cy="458.89" r="1.65"/><circle cx="614.38" cy="460.03" r="1.65"/><circle cx="614.87" cy="461.13" r="1.65"/><circle cx="615.37" cy="462.19" r="1.65"/><circle cx="615.86" cy="463.19" r="1.65"/><circle cx="616.36" cy="464.14" r="1.65"/><circle cx="616.85" cy="465.04" r="1.65"/><circle cx="617.35" cy="465.87" r="1.65"/><circle cx="617.84" cy="466.67" r="1.65"/><circle cx="618.34" cy="467.44" r="1.65"/><circle cx="618.83" cy="468.19" r="1.65"/><circle cx="619.33" cy="468.91" r="1.65"/><circle cx="619.82" cy="469.6" r="1.65"/><circle cx="620.32" cy="470.28" r="1.65"/><circle cx="620.81" cy="470.92" r="1.65"/><circle cx="621.31" cy="471.55" r="1.65"/><circle cx="621.8" cy="472.16" r="1.65"/><circle cx="622.3" cy="472.74" r="1.65"/><circle cx="622.79" cy="473.31" r="1.65"/><circle cx="623.29" cy="473.85" r="1.65"/><circle cx="623.78" cy="474.38" r="1.65"/><circle cx="624.28" cy="474.89" r="1.65"/><circle cx="624.77" cy="475.38" r="1.65"/><circle cx="625.27" cy="475.85" r="1.65"/><circle cx="625.76" cy="476.32" r="1.65"/><circle cx="626.26" cy="476.78" r="1.65"/><circle cx="626.75" cy="477.23" r="1.65"/><circle cx="627.25" cy="477.67" r="1.65"/><circle cx="627.74" cy="478.11" r="1.65"/><circle cx="628.24" cy="478.53" r="1.65"/><circle cx="628.73" cy="478.95" r="1.65"/><circle cx="629.23" cy="479.35" r="1.65"/><circle cx="629.72" cy="479.75" r="1.65"/><circle cx="630.22" cy="480.14" r="1.65"/><circle cx="630.71" cy="480.52" r="1.65"/><circle cx="631.21" cy="480.89" r="1.65"/><circle cx="631.7" cy="481.25" r="1.65"/><circle cx="632.2" cy="481.59" r="1.65"/><circle cx="632.69" cy="481.93" r="1.65"/><circle cx="633.19" cy="482.26" r="1.65"/><circle cx="633.68" cy="482.57" r="1.65"/><circle cx="634.18" cy="482.88" r="1.65"/><circle cx="634.67" cy="483.17" r="1.65"/><circle cx="635.17" cy="483.45" r="1.65"/><circle cx="635.66" cy="483.72" r="1.65"/><circle cx="636.16" cy="483.98" r="1.65"/><circle cx="636.65" cy="484.22" r="1.65"/><circle cx="637.15" cy="484.47" r="1.65"/><circle cx="637.64" cy="484.7" r="1.65"/><circle cx="638.14" cy="484.93" r="1.65"/><circle cx="638.63" cy="485.15" r="1.65"/><circle cx="639.13" cy="485.37" r="1.65"/><circle cx="639.62" cy="485.58" r="1.65"/><circle cx="640.12" cy="485.78" r="1.65"/><circle cx="640.61" cy="485.98" r="1.65"/><circle cx="641.11" cy="486.18" r="1.65"/><circle cx="641.6" cy="486.37" r="1.65"/><circle cx="642.1" cy="486.55" r="1.65"/><circle cx="642.59" cy="486.73" r="1.65"/><circle cx="643.09" cy="486.91" r="1.65"/><circle cx="643.58" cy="487.08" r="1.65"/><circle cx="644.08" cy="487.25" r="1.65"/><circle cx="644.57" cy="487.41" r="1.65"/><circle cx="645.07" cy="487.57" r="1.65"/><circle cx="645.56" cy="487.72" r="1.65"/><circle cx="646.06" cy="487.88" r="1.65"/><circle cx="646.55" cy="488.02" r="1.65"/><circle cx="647.05" cy="488.17" r="1.65"/><circle cx="647.54" cy="488.31" r="1.65"/><circle cx="648.04" cy="488.45" r="1.65"/><circle cx="648.53" cy="488.59" r="1.65"/><circle cx="649.03" cy="488.72" r="1.65"/><circle cx="649.52" cy="488.85" r="1.65"/><circle cx="650.02" cy="488.98" r="1.65"/><circle cx="650.51" cy="489.11" r="1.65"/><circle cx="651.01" cy="489.23" r="1.65"/><circle cx="651.5" cy="489.35" r="1.65"/><circle cx="652" cy="489.47" r="1.65"/><circle cx="652.49" cy="489.59" r="1.65"/><circle cx="652.99" cy="489.7" r="1.65"/><circle cx="653.48" cy="489.8" r="1.65"/><circle cx="653.98" cy="489.91" r="1.65"/><circle cx="654.47" cy="490.01" r="1.65"/><circle cx="654.97" cy="490.11" r="1.65"/><circle cx="655.46" cy="490.2" r="1.65"/><circle cx="655.96" cy="490.29" r="1.65"/><circle cx="656.45" cy="490.37" r="1.65"/><circle cx="656.95" cy="490.45" r="1.65"/><circle cx="657.44" cy="490.53" r="1.65"/><circle cx="657.94" cy="490.59" r="1.65"/></g>
</g>
</svg>
<rect x="41.5" y="16.5" width="18" height="14.9" fill="#fff" stroke="#333" stroke-width="1.0"/>
<text x="49.6" y="27.9" font-family="Liberation Sans" font-size="11" text-anchor="middle" font-weight="normal" >A</text>
<rect x="202.1" y="16.4" width="17.7" height="14.9" fill="#fff" stroke="#333" stroke-width="1.0"/>
<text x="210.05" y="27.8" font-family="Liberation Sans" font-size="11" text-anchor="middle" font-weight="normal" >B</text>
<rect x="20.3" y="217.2" width="17.3" height="14.8" fill="#fff" stroke="#333" stroke-width="1.0"/>
<text x="22.3" y="228" font-family="Liberation Serif" font-size="16" text-anchor="start" font-weight="normal" >a)</text>
<rect x="286.5" y="39.4" width="31.8" height="15.1" fill="#fff" stroke="#333" stroke-width="1.0"/>
<text x="288.5" y="50.8" font-family="Liberation Serif" font-size="13.6" text-anchor="start" font-weight="normal" style="stroke-width:0">0.3 <tspan dx="0.3">g</tspan></text>
<rect x="239.1" y="10.5" width="79.6" height="29" fill="#fff" stroke="#333" stroke-width="1.0"/>
<line x1="245.3" y1="19.3" x2="270" y2="19.3" stroke="#1a1a1a" stroke-width="0.9" />
<line x1="245.3" y1="33.2" x2="270" y2="33.2" stroke="#ff0000" stroke-width="1.0" />
<circle cx="257.7" cy="33.2" r="1.9" fill="#ff0000"/>
<text x="272.9" y="22.9" font-family="Liberation Serif" font-size="10.8" text-anchor="start" font-weight="normal" style="stroke-width:0">FEM</text>
<text x="272.9" y="36.6" font-family="Liberation Serif" font-size="10.8" text-anchor="start" font-weight="normal" style="stroke-width:0">Measured</text>
<text transform="translate(13.1,128.5) rotate(-90)" font-family="Liberation Serif" font-size="13.3" text-anchor="middle">Power (&#956;W)</text>
<text transform="translate(166.7,128.7) rotate(-90)" font-family="Liberation Serif" font-size="13.3" text-anchor="middle">Power (&#956;W)</text>
<rect x="374.5" y="15.3" width="18.1" height="14.2" fill="#fff" stroke="#333" stroke-width="1.0"/>
<text x="382.65" y="26.35" font-family="Liberation Sans" font-size="11" text-anchor="middle" font-weight="normal" >A</text>
<rect x="536.2" y="15.3" width="17.4" height="14.2" fill="#fff" stroke="#333" stroke-width="1.0"/>
<text x="544" y="26.35" font-family="Liberation Sans" font-size="11" text-anchor="middle" font-weight="normal" >B</text>
<rect x="353.3" y="217.2" width="17.3" height="14.8" fill="#fff" stroke="#333" stroke-width="1.0"/>
<text x="355.7" y="228" font-family="Liberation Serif" font-size="16" text-anchor="start" font-weight="normal" >b)</text>
<rect x="621.4" y="15.2" width="31.1" height="14.4" fill="#fff" stroke="#333" stroke-width="1.0"/>
<text x="622.5" y="26.1" font-family="Liberation Serif" font-size="13.6" text-anchor="start" font-weight="normal" style="stroke-width:0">0.5 <tspan dx="1.3">g</tspan></text>
<text transform="translate(345.1,129) rotate(-90)" font-family="Liberation Serif" font-size="13.3" text-anchor="middle">Power (&#956;W)</text>
<text transform="translate(497.3,126) rotate(-90)" font-family="Liberation Serif" font-size="13.3" text-anchor="middle">Power (&#956;W)</text>
<rect x="41.9" y="283.6" width="17.2" height="14.7" fill="#fff" stroke="#333" stroke-width="1.0"/>
<text x="49.6" y="294.9" font-family="Liberation Sans" font-size="11" text-anchor="middle" font-weight="normal" >A</text>
<rect x="198.5" y="281.3" width="18.3" height="15" fill="#fff" stroke="#333" stroke-width="1.0"/>
<text x="206.75" y="292.75" font-family="Liberation Sans" font-size="11" text-anchor="middle" font-weight="normal" >B</text>
<rect x="20.4" y="483.4" width="17.3" height="15.1" fill="#fff" stroke="#333" stroke-width="1.0"/>
<text x="22.3" y="494.7" font-family="Liberation Serif" font-size="16" text-anchor="start" font-weight="normal" >c)</text>
<rect x="287.4" y="281.3" width="31.2" height="14.7" fill="#fff" stroke="#333" stroke-width="1.0"/>
<text x="288.9" y="293.2" font-family="Liberation Serif" font-size="13.6" text-anchor="start" font-weight="normal" style="stroke-width:0">0.7 <tspan dx="1.3">g</tspan></text>
<text transform="translate(14.8,391.9) rotate(-90)" font-family="Liberation Serif" font-size="13.3" text-anchor="middle">Power (&#956;W)</text>
<text transform="translate(165.7,388) rotate(-90)" font-family="Liberation Serif" font-size="13.3" text-anchor="middle">Power (&#956;W)</text>
<rect x="378.3" y="281.3" width="18.3" height="15.1" fill="#fff" stroke="#333" stroke-width="1.0"/>
<text x="386.55" y="292.8" font-family="Liberation Sans" font-size="11" text-anchor="middle" font-weight="normal" >A</text>
<rect x="529.3" y="280.4" width="17.5" height="14.2" fill="#fff" stroke="#333" stroke-width="1.0"/>
<text x="537.15" y="291.45" font-family="Liberation Sans" font-size="11" text-anchor="middle" font-weight="normal" >B</text>
<rect x="353.4" y="483.4" width="17.3" height="15.1" fill="#fff" stroke="#333" stroke-width="1.0"/>
<text x="355.7" y="494.7" font-family="Liberation Serif" font-size="16" text-anchor="start" font-weight="normal" >d)</text>
<rect x="632.4" y="280.5" width="21.1" height="15" fill="#fff" stroke="#333" stroke-width="1.0"/>
<text x="633.4" y="291.8" font-family="Liberation Serif" font-size="13.6" text-anchor="start" font-weight="normal" style="stroke-width:0">1 <tspan dx="1.3">g</tspan></text>
<text transform="translate(348.5,391.9) rotate(-90)" font-family="Liberation Serif" font-size="13.3" text-anchor="middle">Power (&#956;W)</text>
<text transform="translate(496.5,391.9) rotate(-90)" font-family="Liberation Serif" font-size="13.3" text-anchor="middle">Power (&#956;W)</text>
</svg>
</body></html>
